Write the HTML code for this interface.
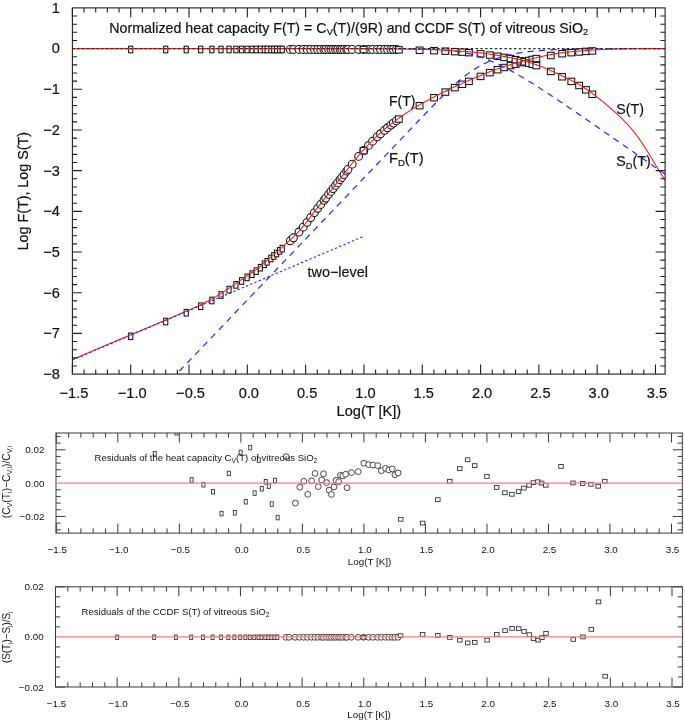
<!DOCTYPE html>
<html><head><meta charset="utf-8"><style>
html,body{margin:0;padding:0;background:#fff;}
svg{display:block;font-family:"Liberation Sans",sans-serif;fill:#111;}
svg text{fill:#111;}
svg text.b{stroke:#111;stroke-width:0.2px;}
</style></head><body>
<svg width="685" height="723" viewBox="0 0 685 723">
<rect width="685" height="723" fill="#fff"/>
<g opacity="0.999">
<clipPath id="cm"><rect x="72.4" y="7.9" width="592.7" height="366.20000000000005"/></clipPath>
<rect x="128.61" y="333.03" width="4.20" height="6.60" fill="#fff" stroke="#111" stroke-width="1.05"/>
<rect x="128.61" y="46.19" width="4.20" height="6.60" fill="#fff" stroke="#111" stroke-width="1.05"/>
<rect x="163.60" y="318.27" width="4.20" height="6.60" fill="#fff" stroke="#111" stroke-width="1.05"/>
<rect x="163.60" y="46.19" width="4.20" height="6.60" fill="#fff" stroke="#111" stroke-width="1.05"/>
<rect x="184.12" y="309.44" width="4.20" height="6.60" fill="#fff" stroke="#111" stroke-width="1.05"/>
<rect x="184.12" y="46.19" width="4.20" height="6.60" fill="#fff" stroke="#111" stroke-width="1.05"/>
<rect x="198.58" y="302.93" width="4.20" height="6.60" fill="#fff" stroke="#111" stroke-width="1.05"/>
<rect x="198.58" y="46.19" width="4.20" height="6.60" fill="#fff" stroke="#111" stroke-width="1.05"/>
<rect x="209.78" y="297.18" width="4.20" height="6.60" fill="#fff" stroke="#111" stroke-width="1.05"/>
<rect x="209.78" y="46.19" width="4.20" height="6.60" fill="#fff" stroke="#111" stroke-width="1.05"/>
<rect x="218.87" y="291.70" width="4.20" height="6.60" fill="#fff" stroke="#111" stroke-width="1.05"/>
<rect x="218.87" y="46.19" width="4.20" height="6.60" fill="#fff" stroke="#111" stroke-width="1.05"/>
<rect x="226.92" y="286.33" width="4.20" height="6.60" fill="#fff" stroke="#111" stroke-width="1.05"/>
<rect x="226.92" y="46.19" width="4.20" height="6.60" fill="#fff" stroke="#111" stroke-width="1.05"/>
<rect x="233.80" y="281.58" width="4.20" height="6.60" fill="#fff" stroke="#111" stroke-width="1.05"/>
<rect x="233.80" y="46.19" width="4.20" height="6.60" fill="#fff" stroke="#111" stroke-width="1.05"/>
<rect x="239.52" y="277.67" width="4.20" height="6.60" fill="#fff" stroke="#111" stroke-width="1.05"/>
<rect x="239.52" y="46.19" width="4.20" height="6.60" fill="#fff" stroke="#111" stroke-width="1.05"/>
<rect x="245.00" y="274.06" width="4.20" height="6.60" fill="#fff" stroke="#111" stroke-width="1.05"/>
<rect x="245.00" y="46.19" width="4.20" height="6.60" fill="#fff" stroke="#111" stroke-width="1.05"/>
<rect x="249.89" y="270.85" width="4.20" height="6.60" fill="#fff" stroke="#111" stroke-width="1.05"/>
<rect x="249.89" y="46.19" width="4.20" height="6.60" fill="#fff" stroke="#111" stroke-width="1.05"/>
<rect x="254.09" y="267.84" width="4.20" height="6.60" fill="#fff" stroke="#111" stroke-width="1.05"/>
<rect x="254.09" y="46.19" width="4.20" height="6.60" fill="#fff" stroke="#111" stroke-width="1.05"/>
<rect x="258.29" y="264.42" width="4.20" height="6.60" fill="#fff" stroke="#111" stroke-width="1.05"/>
<rect x="258.29" y="46.19" width="4.20" height="6.60" fill="#fff" stroke="#111" stroke-width="1.05"/>
<rect x="262.26" y="260.96" width="4.20" height="6.60" fill="#fff" stroke="#111" stroke-width="1.05"/>
<rect x="262.26" y="46.19" width="4.20" height="6.60" fill="#fff" stroke="#111" stroke-width="1.05"/>
<rect x="265.06" y="258.49" width="4.20" height="6.60" fill="#fff" stroke="#111" stroke-width="1.05"/>
<rect x="265.06" y="46.19" width="4.20" height="6.60" fill="#fff" stroke="#111" stroke-width="1.05"/>
<rect x="268.79" y="255.21" width="4.20" height="6.60" fill="#fff" stroke="#111" stroke-width="1.05"/>
<rect x="268.79" y="46.19" width="4.20" height="6.60" fill="#fff" stroke="#111" stroke-width="1.05"/>
<rect x="271.70" y="252.67" width="4.20" height="6.60" fill="#fff" stroke="#111" stroke-width="1.05"/>
<rect x="271.70" y="46.19" width="4.20" height="6.60" fill="#fff" stroke="#111" stroke-width="1.05"/>
<rect x="274.50" y="250.23" width="4.20" height="6.60" fill="#fff" stroke="#111" stroke-width="1.05"/>
<rect x="274.50" y="46.19" width="4.20" height="6.60" fill="#fff" stroke="#111" stroke-width="1.05"/>
<rect x="277.53" y="247.57" width="4.20" height="6.60" fill="#fff" stroke="#111" stroke-width="1.05"/>
<rect x="277.53" y="46.19" width="4.20" height="6.60" fill="#fff" stroke="#111" stroke-width="1.05"/>
<rect x="280.10" y="245.32" width="4.20" height="6.60" fill="#fff" stroke="#111" stroke-width="1.05"/>
<rect x="280.10" y="46.19" width="4.20" height="6.60" fill="#fff" stroke="#111" stroke-width="1.05"/>
<circle cx="290.25" cy="240.76" r="3.90" fill="#fff" stroke="#111" stroke-width="1.05"/>
<circle cx="290.25" cy="49.49" r="3.90" fill="#fff" stroke="#111" stroke-width="1.05"/>
<circle cx="293.39" cy="237.76" r="3.90" fill="#fff" stroke="#111" stroke-width="1.05"/>
<circle cx="293.39" cy="49.49" r="3.90" fill="#fff" stroke="#111" stroke-width="1.05"/>
<circle cx="298.99" cy="232.00" r="3.90" fill="#fff" stroke="#111" stroke-width="1.05"/>
<circle cx="298.99" cy="49.49" r="3.90" fill="#fff" stroke="#111" stroke-width="1.05"/>
<circle cx="303.19" cy="227.19" r="3.90" fill="#fff" stroke="#111" stroke-width="1.05"/>
<circle cx="303.19" cy="49.49" r="3.90" fill="#fff" stroke="#111" stroke-width="1.05"/>
<circle cx="307.04" cy="222.32" r="3.90" fill="#fff" stroke="#111" stroke-width="1.05"/>
<circle cx="307.04" cy="49.49" r="3.90" fill="#fff" stroke="#111" stroke-width="1.05"/>
<circle cx="310.65" cy="217.52" r="3.90" fill="#fff" stroke="#111" stroke-width="1.05"/>
<circle cx="310.65" cy="49.49" r="3.90" fill="#fff" stroke="#111" stroke-width="1.05"/>
<circle cx="314.39" cy="212.59" r="3.90" fill="#fff" stroke="#111" stroke-width="1.05"/>
<circle cx="314.39" cy="49.49" r="3.90" fill="#fff" stroke="#111" stroke-width="1.05"/>
<circle cx="317.65" cy="208.34" r="3.90" fill="#fff" stroke="#111" stroke-width="1.05"/>
<circle cx="317.65" cy="49.49" r="3.90" fill="#fff" stroke="#111" stroke-width="1.05"/>
<circle cx="320.68" cy="204.45" r="3.90" fill="#fff" stroke="#111" stroke-width="1.05"/>
<circle cx="320.68" cy="49.49" r="3.90" fill="#fff" stroke="#111" stroke-width="1.05"/>
<circle cx="323.95" cy="200.29" r="3.90" fill="#fff" stroke="#111" stroke-width="1.05"/>
<circle cx="323.95" cy="49.49" r="3.90" fill="#fff" stroke="#111" stroke-width="1.05"/>
<circle cx="325.70" cy="198.07" r="3.90" fill="#fff" stroke="#111" stroke-width="1.05"/>
<circle cx="325.70" cy="49.49" r="3.90" fill="#fff" stroke="#111" stroke-width="1.05"/>
<circle cx="328.61" cy="194.37" r="3.90" fill="#fff" stroke="#111" stroke-width="1.05"/>
<circle cx="328.61" cy="49.49" r="3.90" fill="#fff" stroke="#111" stroke-width="1.05"/>
<circle cx="330.95" cy="191.41" r="3.90" fill="#fff" stroke="#111" stroke-width="1.05"/>
<circle cx="330.95" cy="49.49" r="3.90" fill="#fff" stroke="#111" stroke-width="1.05"/>
<circle cx="333.16" cy="188.58" r="3.90" fill="#fff" stroke="#111" stroke-width="1.05"/>
<circle cx="333.16" cy="49.49" r="3.90" fill="#fff" stroke="#111" stroke-width="1.05"/>
<circle cx="335.61" cy="185.44" r="3.90" fill="#fff" stroke="#111" stroke-width="1.05"/>
<circle cx="335.61" cy="49.49" r="3.90" fill="#fff" stroke="#111" stroke-width="1.05"/>
<circle cx="337.59" cy="182.88" r="3.90" fill="#fff" stroke="#111" stroke-width="1.05"/>
<circle cx="337.59" cy="49.49" r="3.90" fill="#fff" stroke="#111" stroke-width="1.05"/>
<circle cx="340.04" cy="179.71" r="3.90" fill="#fff" stroke="#111" stroke-width="1.05"/>
<circle cx="340.04" cy="49.49" r="3.90" fill="#fff" stroke="#111" stroke-width="1.05"/>
<circle cx="341.79" cy="177.45" r="3.90" fill="#fff" stroke="#111" stroke-width="1.05"/>
<circle cx="341.79" cy="49.49" r="3.90" fill="#fff" stroke="#111" stroke-width="1.05"/>
<circle cx="344.01" cy="174.58" r="3.90" fill="#fff" stroke="#111" stroke-width="1.05"/>
<circle cx="344.01" cy="49.49" r="3.90" fill="#fff" stroke="#111" stroke-width="1.05"/>
<circle cx="346.69" cy="171.13" r="3.90" fill="#fff" stroke="#111" stroke-width="1.05"/>
<circle cx="346.69" cy="49.49" r="3.90" fill="#fff" stroke="#111" stroke-width="1.05"/>
<circle cx="347.97" cy="169.49" r="3.90" fill="#fff" stroke="#111" stroke-width="1.05"/>
<circle cx="347.97" cy="49.49" r="3.90" fill="#fff" stroke="#111" stroke-width="1.05"/>
<circle cx="352.17" cy="164.19" r="3.90" fill="#fff" stroke="#111" stroke-width="1.05"/>
<circle cx="352.17" cy="49.49" r="3.90" fill="#fff" stroke="#111" stroke-width="1.05"/>
<circle cx="358.59" cy="156.39" r="3.90" fill="#fff" stroke="#111" stroke-width="1.05"/>
<circle cx="358.59" cy="49.49" r="3.90" fill="#fff" stroke="#111" stroke-width="1.05"/>
<circle cx="363.83" cy="150.39" r="3.90" fill="#fff" stroke="#111" stroke-width="1.05"/>
<circle cx="363.83" cy="49.49" r="3.90" fill="#fff" stroke="#111" stroke-width="1.05"/>
<circle cx="368.50" cy="145.38" r="3.90" fill="#fff" stroke="#111" stroke-width="1.05"/>
<circle cx="368.50" cy="49.49" r="3.90" fill="#fff" stroke="#111" stroke-width="1.05"/>
<circle cx="372.58" cy="141.23" r="3.90" fill="#fff" stroke="#111" stroke-width="1.05"/>
<circle cx="372.58" cy="49.49" r="3.90" fill="#fff" stroke="#111" stroke-width="1.05"/>
<circle cx="377.13" cy="136.85" r="3.90" fill="#fff" stroke="#111" stroke-width="1.05"/>
<circle cx="377.13" cy="49.49" r="3.90" fill="#fff" stroke="#111" stroke-width="1.05"/>
<circle cx="380.51" cy="133.75" r="3.90" fill="#fff" stroke="#111" stroke-width="1.05"/>
<circle cx="380.51" cy="49.49" r="3.90" fill="#fff" stroke="#111" stroke-width="1.05"/>
<circle cx="384.48" cy="130.29" r="3.90" fill="#fff" stroke="#111" stroke-width="1.05"/>
<circle cx="384.48" cy="49.49" r="3.90" fill="#fff" stroke="#111" stroke-width="1.05"/>
<circle cx="387.51" cy="127.75" r="3.90" fill="#fff" stroke="#111" stroke-width="1.05"/>
<circle cx="387.51" cy="49.49" r="3.90" fill="#fff" stroke="#111" stroke-width="1.05"/>
<circle cx="390.89" cy="125.03" r="3.90" fill="#fff" stroke="#111" stroke-width="1.05"/>
<circle cx="390.89" cy="49.49" r="3.90" fill="#fff" stroke="#111" stroke-width="1.05"/>
<circle cx="393.34" cy="123.12" r="3.90" fill="#fff" stroke="#111" stroke-width="1.05"/>
<circle cx="393.34" cy="49.49" r="3.90" fill="#fff" stroke="#111" stroke-width="1.05"/>
<circle cx="396.37" cy="120.84" r="3.90" fill="#fff" stroke="#111" stroke-width="1.05"/>
<circle cx="396.37" cy="49.49" r="3.90" fill="#fff" stroke="#111" stroke-width="1.05"/>
<rect x="360.20" y="147.45" width="6.80" height="6.40" fill="#fff" stroke="#111" stroke-width="1.05"/>
<rect x="360.20" y="46.35" width="6.80" height="6.40" fill="#fff" stroke="#111" stroke-width="1.05"/>
<rect x="395.42" y="115.86" width="6.80" height="6.40" fill="#fff" stroke="#111" stroke-width="1.05"/>
<rect x="395.42" y="46.64" width="6.80" height="6.40" fill="#fff" stroke="#111" stroke-width="1.05"/>
<rect x="416.18" y="102.48" width="6.80" height="6.40" fill="#fff" stroke="#111" stroke-width="1.05"/>
<rect x="416.18" y="47.04" width="6.80" height="6.40" fill="#fff" stroke="#111" stroke-width="1.05"/>
<rect x="430.64" y="94.55" width="6.80" height="6.40" fill="#fff" stroke="#111" stroke-width="1.05"/>
<rect x="430.64" y="47.48" width="6.80" height="6.40" fill="#fff" stroke="#111" stroke-width="1.05"/>
<rect x="441.95" y="88.89" width="6.80" height="6.40" fill="#fff" stroke="#111" stroke-width="1.05"/>
<rect x="441.95" y="47.95" width="6.80" height="6.40" fill="#fff" stroke="#111" stroke-width="1.05"/>
<rect x="451.40" y="84.45" width="6.80" height="6.40" fill="#fff" stroke="#111" stroke-width="1.05"/>
<rect x="451.40" y="48.45" width="6.80" height="6.40" fill="#fff" stroke="#111" stroke-width="1.05"/>
<rect x="458.86" y="81.09" width="6.80" height="6.40" fill="#fff" stroke="#111" stroke-width="1.05"/>
<rect x="458.86" y="48.94" width="6.80" height="6.40" fill="#fff" stroke="#111" stroke-width="1.05"/>
<rect x="465.51" y="78.17" width="6.80" height="6.40" fill="#fff" stroke="#111" stroke-width="1.05"/>
<rect x="465.51" y="49.47" width="6.80" height="6.40" fill="#fff" stroke="#111" stroke-width="1.05"/>
<rect x="477.17" y="73.21" width="6.80" height="6.40" fill="#fff" stroke="#111" stroke-width="1.05"/>
<rect x="477.17" y="50.63" width="6.80" height="6.40" fill="#fff" stroke="#111" stroke-width="1.05"/>
<rect x="486.38" y="69.45" width="6.80" height="6.40" fill="#fff" stroke="#111" stroke-width="1.05"/>
<rect x="486.38" y="51.84" width="6.80" height="6.40" fill="#fff" stroke="#111" stroke-width="1.05"/>
<rect x="494.20" y="66.52" width="6.80" height="6.40" fill="#fff" stroke="#111" stroke-width="1.05"/>
<rect x="494.20" y="53.06" width="6.80" height="6.40" fill="#fff" stroke="#111" stroke-width="1.05"/>
<rect x="500.84" y="64.31" width="6.80" height="6.40" fill="#fff" stroke="#111" stroke-width="1.05"/>
<rect x="500.84" y="54.19" width="6.80" height="6.40" fill="#fff" stroke="#111" stroke-width="1.05"/>
<rect x="507.14" y="62.39" width="6.80" height="6.40" fill="#fff" stroke="#111" stroke-width="1.05"/>
<rect x="507.14" y="55.37" width="6.80" height="6.40" fill="#fff" stroke="#111" stroke-width="1.05"/>
<rect x="512.16" y="60.93" width="6.80" height="6.40" fill="#fff" stroke="#111" stroke-width="1.05"/>
<rect x="512.16" y="56.43" width="6.80" height="6.40" fill="#fff" stroke="#111" stroke-width="1.05"/>
<rect x="517.17" y="59.50" width="6.80" height="6.40" fill="#fff" stroke="#111" stroke-width="1.05"/>
<rect x="517.17" y="57.63" width="6.80" height="6.40" fill="#fff" stroke="#111" stroke-width="1.05"/>
<rect x="521.14" y="58.39" width="6.80" height="6.40" fill="#fff" stroke="#111" stroke-width="1.05"/>
<rect x="521.14" y="58.68" width="6.80" height="6.40" fill="#fff" stroke="#111" stroke-width="1.05"/>
<rect x="525.45" y="57.23" width="6.80" height="6.40" fill="#fff" stroke="#111" stroke-width="1.05"/>
<rect x="525.45" y="59.95" width="6.80" height="6.40" fill="#fff" stroke="#111" stroke-width="1.05"/>
<rect x="529.07" y="56.30" width="6.80" height="6.40" fill="#fff" stroke="#111" stroke-width="1.05"/>
<rect x="529.07" y="61.10" width="6.80" height="6.40" fill="#fff" stroke="#111" stroke-width="1.05"/>
<rect x="532.91" y="55.36" width="6.80" height="6.40" fill="#fff" stroke="#111" stroke-width="1.05"/>
<rect x="532.91" y="62.42" width="6.80" height="6.40" fill="#fff" stroke="#111" stroke-width="1.05"/>
<rect x="547.38" y="52.31" width="6.80" height="6.40" fill="#fff" stroke="#111" stroke-width="1.05"/>
<rect x="547.38" y="68.25" width="6.80" height="6.40" fill="#fff" stroke="#111" stroke-width="1.05"/>
<rect x="558.69" y="50.52" width="6.80" height="6.40" fill="#fff" stroke="#111" stroke-width="1.05"/>
<rect x="558.69" y="73.61" width="6.80" height="6.40" fill="#fff" stroke="#111" stroke-width="1.05"/>
<rect x="567.90" y="49.46" width="6.80" height="6.40" fill="#fff" stroke="#111" stroke-width="1.05"/>
<rect x="567.90" y="78.20" width="6.80" height="6.40" fill="#fff" stroke="#111" stroke-width="1.05"/>
<rect x="575.71" y="48.75" width="6.80" height="6.40" fill="#fff" stroke="#111" stroke-width="1.05"/>
<rect x="575.71" y="82.32" width="6.80" height="6.40" fill="#fff" stroke="#111" stroke-width="1.05"/>
<rect x="582.59" y="48.19" width="6.80" height="6.40" fill="#fff" stroke="#111" stroke-width="1.05"/>
<rect x="582.59" y="86.64" width="6.80" height="6.40" fill="#fff" stroke="#111" stroke-width="1.05"/>
<rect x="588.89" y="47.75" width="6.80" height="6.40" fill="#fff" stroke="#111" stroke-width="1.05"/>
<rect x="588.89" y="91.11" width="6.80" height="6.40" fill="#fff" stroke="#111" stroke-width="1.05"/>
<path d="M171.53,379.34 L172.76,378.05 L174.00,376.75 L175.24,375.46 L176.48,374.16 L177.72,372.87 L178.95,371.57 L180.19,370.28 L181.43,368.98 L182.67,367.68 L183.91,366.39 L185.14,365.09 L186.38,363.80 L187.62,362.50 L188.86,361.21 L190.09,359.91 L191.33,358.61 L192.57,357.32 L193.81,356.02 L195.05,354.73 L196.28,353.43 L197.52,352.14 L198.76,350.84 L200.00,349.55 L201.23,348.25 L202.47,346.95 L203.71,345.66 L204.95,344.36 L206.19,343.07 L207.42,341.77 L208.66,340.48 L209.90,339.18 L211.14,337.88 L212.37,336.59 L213.61,335.29 L214.85,334.00 L216.09,332.70 L217.33,331.41 L218.56,330.11 L219.80,328.82 L221.04,327.52 L222.28,326.22 L223.51,324.93 L224.75,323.63 L225.99,322.34 L227.23,321.04 L228.47,319.75 L229.70,318.45 L230.94,317.15 L232.18,315.86 L233.42,314.56 L234.66,313.27 L235.89,311.97 L237.13,310.68 L238.37,309.38 L239.61,308.09 L240.84,306.79 L242.08,305.49 L243.32,304.20 L244.56,302.90 L245.80,301.61 L247.03,300.31 L248.27,299.02 L249.51,297.72 L250.75,296.43 L251.98,295.13 L253.22,293.83 L254.46,292.54 L255.70,291.24 L256.94,289.95 L258.17,288.65 L259.41,287.36 L260.65,286.06 L261.89,284.76 L263.12,283.47 L264.36,282.17 L265.60,280.88 L266.84,279.58 L268.08,278.29 L269.31,276.99 L270.55,275.70 L271.79,274.40 L273.03,273.10 L274.27,271.81 L275.50,270.51 L276.74,269.22 L277.98,267.92 L279.22,266.63 L280.45,265.33 L281.69,264.03 L282.93,262.74 L284.17,261.44 L285.41,260.15 L286.64,258.85 L287.88,257.56 L289.12,256.26 L290.36,254.97 L291.59,253.67 L292.83,252.37 L294.07,251.08 L295.31,249.78 L296.55,248.49 L297.78,247.19 L299.02,245.90 L300.26,244.60 L301.50,243.30 L302.73,242.01 L303.97,240.71 L305.21,239.42 L306.45,238.12 L307.69,236.83 L308.92,235.53 L310.16,234.24 L311.40,232.94 L312.64,231.64 L313.88,230.35 L315.11,229.05 L316.35,227.76 L317.59,226.46 L318.83,225.17 L320.06,223.87 L321.30,222.57 L322.54,221.28 L323.78,219.98 L325.02,218.69 L326.25,217.39 L327.49,216.10 L328.73,214.80 L329.97,213.51 L331.20,212.21 L332.44,210.91 L333.68,209.62 L334.92,208.32 L336.16,207.03 L337.39,205.73 L338.63,204.44 L339.87,203.14 L341.11,201.84 L342.34,200.55 L343.58,199.25 L344.82,197.96 L346.06,196.66 L347.30,195.37 L348.53,194.07 L349.77,192.78 L351.01,191.48 L352.25,190.18 L353.48,188.89 L354.72,187.59 L355.96,186.30 L357.20,185.00 L358.44,183.71 L359.67,182.41 L360.91,181.11 L362.15,179.82 L363.39,178.52 L364.63,177.23 L365.86,175.93 L367.10,174.64 L368.34,173.34 L369.58,172.05 L370.81,170.75 L372.05,169.45 L373.29,168.16 L374.53,166.86 L375.77,165.57 L377.00,164.27 L378.24,162.98 L379.48,161.68 L380.72,160.38 L381.95,159.09 L383.19,157.79 L384.43,156.50 L385.67,155.20 L386.91,153.91 L388.14,152.61 L389.38,151.32 L390.62,150.02 L391.86,148.72 L393.09,147.43 L394.33,146.13 L395.57,144.84 L396.81,143.54 L398.05,142.25 L399.28,140.95 L400.52,139.66 L401.76,138.36 L403.00,137.06 L404.24,135.77 L405.47,134.47 L406.71,133.18 L407.95,131.88 L409.19,130.59 L410.42,129.29 L411.66,128.00 L412.90,126.70 L414.14,125.40 L415.38,124.11 L416.61,122.81 L417.85,121.52 L419.09,120.23 L420.33,118.93 L421.56,117.64 L422.80,116.34 L424.04,115.05 L425.28,113.76 L426.52,112.47 L427.75,111.18 L428.99,109.90 L430.23,108.61 L431.47,107.33 L432.70,106.05 L433.94,104.77 L435.18,103.50 L436.42,102.23 L437.66,100.97 L438.89,99.71 L440.13,98.46 L441.37,97.22 L442.61,95.98 L443.84,94.76 L445.08,93.54 L446.32,92.33 L447.56,91.13 L448.80,89.95 L450.03,88.78 L451.27,87.62 L452.51,86.48 L453.75,85.35 L454.99,84.23 L456.22,83.14 L457.46,82.06 L458.70,81.00 L459.94,79.96 L461.17,78.93 L462.41,77.93 L463.65,76.95 L464.89,75.99 L466.13,75.04 L467.36,74.12 L468.60,73.22 L469.84,72.35 L471.08,71.49 L472.31,70.66 L473.55,69.85 L474.79,69.06 L476.03,68.29 L477.27,67.54 L478.50,66.82 L479.74,66.11 L480.98,65.43 L482.22,64.77 L483.45,64.13 L484.69,63.51 L485.93,62.92 L487.17,62.34 L488.41,61.78 L489.64,61.24 L490.88,60.72 L492.12,60.21 L493.36,59.73 L494.60,59.26 L495.83,58.81 L497.07,58.38 L498.31,57.96 L499.55,57.56 L500.78,57.17 L502.02,56.80 L503.26,56.45 L504.50,56.10 L505.74,55.77 L506.97,55.46 L508.21,55.16 L509.45,54.87 L510.69,54.59 L511.92,54.32 L513.16,54.06 L514.40,53.82 L515.64,53.58 L516.88,53.36 L518.11,53.14 L519.35,52.94 L520.59,52.74 L521.83,52.55 L523.06,52.37 L524.30,52.20 L525.54,52.03 L526.78,51.88 L528.02,51.72 L529.25,51.58 L530.49,51.44 L531.73,51.31 L532.97,51.18 L534.20,51.06 L535.44,50.95 L536.68,50.84 L537.92,50.74 L539.16,50.64 L540.39,50.54 L541.63,50.45 L542.87,50.36 L544.11,50.28 L545.35,50.20 L546.58,50.12 L547.82,50.05 L549.06,49.98 L550.30,49.92 L551.53,49.86 L552.77,49.80 L554.01,49.74 L555.25,49.69 L556.49,49.63 L557.72,49.58 L558.96,49.54 L560.20,49.49 L561.44,49.45 L562.67,49.41 L563.91,49.37 L565.15,49.33 L566.39,49.30 L567.63,49.27 L568.86,49.23 L570.10,49.20 L571.34,49.17 L572.58,49.15 L573.81,49.12 L575.05,49.09 L576.29,49.07 L577.53,49.05 L578.77,49.03 L580.00,49.00 L581.24,48.99 L582.48,48.97 L583.72,48.95 L584.96,48.93 L586.19,48.92 L587.43,48.90 L588.67,48.88 L589.91,48.87 L591.14,48.86 L592.38,48.84 L593.62,48.83 L594.86,48.82 L596.10,48.81 L597.33,48.80 L598.57,48.79 L599.81,48.78 L601.05,48.77 L602.28,48.76 L603.52,48.75 L604.76,48.75 L606.00,48.74 L607.24,48.73 L608.47,48.72 L609.71,48.72 L610.95,48.71 L612.19,48.71 L613.42,48.70 L614.66,48.70 L615.90,48.69 L617.14,48.69 L618.38,48.68 L619.61,48.68 L620.85,48.67 L622.09,48.67 L623.33,48.66 L624.57,48.66 L625.80,48.66 L627.04,48.65 L628.28,48.65 L629.52,48.65 L630.75,48.65 L631.99,48.64 L633.23,48.64 L634.47,48.64 L635.71,48.64 L636.94,48.63 L638.18,48.63 L639.42,48.63 L640.66,48.63 L641.89,48.63 L643.13,48.62 L644.37,48.62 L645.61,48.62 L646.85,48.62 L648.08,48.62 L649.32,48.62 L650.56,48.61 L651.80,48.61 L653.03,48.61 L654.27,48.61 L655.51,48.61 L656.75,48.61 L657.99,48.61 L659.22,48.61 L660.46,48.61 L661.70,48.61 L662.94,48.60 L664.17,48.60 L665.41,48.60" fill="none" stroke="#2626f5" stroke-width="1.2" stroke-dasharray="6.2 5.2" clip-path="url(#cm)" stroke-linejoin="round"/>
<path d="M363.95,48.60 L364.96,48.60 L365.97,48.60 L366.97,48.60 L367.98,48.60 L368.99,48.60 L370.00,48.61 L371.01,48.61 L372.02,48.61 L373.02,48.61 L374.03,48.61 L375.04,48.61 L376.05,48.61 L377.06,48.61 L378.07,48.62 L379.07,48.62 L380.08,48.62 L381.09,48.62 L382.10,48.62 L383.11,48.63 L384.11,48.63 L385.12,48.63 L386.13,48.63 L387.14,48.64 L388.15,48.64 L389.16,48.64 L390.16,48.64 L391.17,48.65 L392.18,48.65 L393.19,48.66 L394.20,48.66 L395.21,48.66 L396.21,48.67 L397.22,48.67 L398.23,48.68 L399.24,48.68 L400.25,48.69 L401.25,48.70 L402.26,48.70 L403.27,48.71 L404.28,48.72 L405.29,48.72 L406.30,48.73 L407.30,48.74 L408.31,48.75 L409.32,48.76 L410.33,48.77 L411.34,48.78 L412.35,48.80 L413.35,48.81 L414.36,48.82 L415.37,48.84 L416.38,48.85 L417.39,48.87 L418.39,48.89 L419.40,48.90 L420.41,48.92 L421.42,48.94 L422.43,48.97 L423.44,48.99 L424.44,49.01 L425.45,49.04 L426.46,49.07 L427.47,49.10 L428.48,49.13 L429.49,49.16 L430.49,49.20 L431.50,49.24 L432.51,49.28 L433.52,49.32 L434.53,49.37 L435.53,49.41 L436.54,49.47 L437.55,49.52 L438.56,49.58 L439.57,49.64 L440.58,49.70 L441.58,49.77 L442.59,49.84 L443.60,49.92 L444.61,50.00 L445.62,50.08 L446.63,50.17 L447.63,50.26 L448.64,50.36 L449.65,50.47 L450.66,50.58 L451.67,50.69 L452.67,50.81 L453.68,50.94 L454.69,51.07 L455.70,51.21 L456.71,51.36 L457.72,51.51 L458.72,51.67 L459.73,51.84 L460.74,52.01 L461.75,52.19 L462.76,52.38 L463.77,52.58 L464.77,52.78 L465.78,52.99 L466.79,53.21 L467.80,53.44 L468.81,53.68 L469.81,53.92 L470.82,54.17 L471.83,54.43 L472.84,54.70 L473.85,54.98 L474.86,55.27 L475.86,55.56 L476.87,55.87 L477.88,56.18 L478.89,56.50 L479.90,56.83 L480.91,57.17 L481.91,57.52 L482.92,57.87 L483.93,58.23 L484.94,58.60 L485.95,58.98 L486.95,59.37 L487.96,59.77 L488.97,60.17 L489.98,60.58 L490.99,61.00 L492.00,61.43 L493.00,61.87 L494.01,62.31 L495.02,62.76 L496.03,63.22 L497.04,63.68 L498.05,64.15 L499.05,64.63 L500.06,65.11 L501.07,65.61 L502.08,66.10 L503.09,66.61 L504.09,67.12 L505.10,67.63 L506.11,68.16 L507.12,68.68 L508.13,69.22 L509.14,69.76 L510.14,70.30 L511.15,70.85 L512.16,71.40 L513.17,71.96 L514.18,72.53 L515.19,73.10 L516.19,73.67 L517.20,74.25 L518.21,74.83 L519.22,75.42 L520.23,76.01 L521.23,76.60 L522.24,77.20 L523.25,77.80 L524.26,78.40 L525.27,79.01 L526.28,79.63 L527.28,80.24 L528.29,80.86 L529.30,81.48 L530.31,82.10 L531.32,82.73 L532.33,83.36 L533.33,83.99 L534.34,84.63 L535.35,85.27 L536.36,85.91 L537.37,86.55 L538.37,87.19 L539.38,87.84 L540.39,88.49 L541.40,89.14 L542.41,89.79 L543.42,90.45 L544.42,91.11 L545.43,91.76 L546.44,92.42 L547.45,93.08 L548.46,93.75 L549.47,94.41 L550.47,95.08 L551.48,95.75 L552.49,96.42 L553.50,97.09 L554.51,97.76 L555.51,98.43 L556.52,99.10 L557.53,99.78 L558.54,100.45 L559.55,101.13 L560.56,101.81 L561.56,102.49 L562.57,103.17 L563.58,103.85 L564.59,104.53 L565.60,105.21 L566.61,105.90 L567.61,106.58 L568.62,107.27 L569.63,107.95 L570.64,108.64 L571.65,109.33 L572.65,110.01 L573.66,110.70 L574.67,111.39 L575.68,112.08 L576.69,112.77 L577.70,113.46 L578.70,114.15 L579.71,114.84 L580.72,115.53 L581.73,116.23 L582.74,116.92 L583.75,117.61 L584.75,118.31 L585.76,119.00 L586.77,119.69 L587.78,120.39 L588.79,121.08 L589.79,121.78 L590.80,122.47 L591.81,123.17 L592.82,123.87 L593.83,124.56 L594.84,125.26 L595.84,125.96 L596.85,126.66 L597.86,127.35 L598.87,128.05 L599.88,128.75 L600.89,129.45 L601.89,130.15 L602.90,130.84 L603.91,131.54 L604.92,132.24 L605.93,132.94 L606.93,133.64 L607.94,134.34 L608.95,135.04 L609.96,135.74 L610.97,136.44 L611.98,137.14 L612.98,137.84 L613.99,138.54 L615.00,139.24 L616.01,139.94 L617.02,140.64 L618.03,141.34 L619.03,142.04 L620.04,142.75 L621.05,143.45 L622.06,144.15 L623.07,144.85 L624.08,145.55 L625.08,146.25 L626.09,146.95 L627.10,147.66 L628.11,148.36 L629.12,149.06 L630.12,149.76 L631.13,150.46 L632.14,151.16 L633.15,151.87 L634.16,152.57 L635.17,153.27 L636.17,153.97 L637.18,154.68 L638.19,155.38 L639.20,156.08 L640.21,156.78 L641.22,157.48 L642.22,158.19 L643.23,158.89 L644.24,159.59 L645.25,160.30 L646.26,161.00 L647.26,161.70 L648.27,162.40 L649.28,163.11 L650.29,163.81 L651.30,164.51 L652.31,165.21 L653.31,165.92 L654.32,166.62 L655.33,167.32 L656.34,168.03 L657.35,168.73 L658.36,169.43 L659.36,170.14 L660.37,170.84 L661.38,171.54 L662.39,172.24 L663.40,172.95 L664.40,173.65 L665.41,174.35" fill="none" stroke="#2626f5" stroke-width="1.2" stroke-dasharray="6.2 5.2" clip-path="url(#cm)" stroke-linejoin="round"/>
<path d="M72.40,359.60 L73.39,359.17 L74.38,358.74 L75.37,358.31 L76.36,357.88 L77.35,357.45 L78.34,357.02 L79.33,356.60 L80.32,356.17 L81.31,355.74 L82.30,355.32 L83.29,354.89 L84.28,354.46 L85.27,354.04 L86.26,353.61 L87.25,353.19 L88.24,352.77 L89.23,352.34 L90.22,351.92 L91.21,351.50 L92.20,351.08 L93.19,350.65 L94.18,350.23 L95.17,349.81 L96.16,349.39 L97.15,348.97 L98.14,348.55 L99.13,348.13 L100.12,347.71 L101.11,347.29 L102.10,346.87 L103.09,346.45 L104.08,346.03 L105.07,345.61 L106.06,345.19 L107.05,344.78 L108.04,344.36 L109.03,343.94 L110.02,343.52 L111.01,343.11 L112.00,342.69 L112.99,342.27 L113.98,341.85 L114.97,341.44 L115.96,341.02 L116.95,340.60 L117.94,340.19 L118.93,339.77 L119.92,339.36 L120.91,338.94 L121.90,338.52 L122.89,338.11 L123.88,337.69 L124.87,337.28 L125.86,336.86 L126.85,336.45 L127.84,336.03 L128.83,335.61 L129.82,335.20 L130.81,334.78 L131.80,334.37 L132.79,333.95 L133.78,333.54 L134.77,333.12 L135.76,332.71 L136.75,332.29 L137.74,331.87 L138.73,331.46 L139.72,331.04 L140.71,330.63 L141.70,330.21 L142.69,329.79 L143.68,329.38 L144.67,328.96 L145.66,328.54 L146.65,328.13 L147.64,327.71 L148.63,327.29 L149.62,326.88 L150.61,326.46 L151.60,326.04 L152.59,325.62 L153.58,325.20 L154.57,324.79 L155.56,324.37 L156.55,323.95 L157.54,323.53 L158.53,323.11 L159.52,322.69 L160.51,322.27 L161.50,321.85 L162.49,321.43 L163.48,321.01 L164.47,320.59 L165.46,320.17 L166.45,319.75 L167.44,319.32 L168.43,318.90 L169.42,318.48 L170.41,318.06 L171.40,317.63 L172.39,317.21 L173.38,316.78 L174.37,316.36 L175.36,315.93 L176.35,315.51 L177.34,315.08 L178.33,314.66 L179.32,314.23 L180.31,313.80 L181.30,313.38 L182.29,312.95 L183.28,312.52 L184.27,312.09 L185.26,311.66 L186.25,311.23 L187.24,310.80 L188.23,310.37 L189.22,309.94 L190.21,309.50 L191.20,309.07 L192.19,308.63 L193.18,308.19 L194.17,307.74 L195.16,307.30 L196.15,306.85 L197.14,306.39 L198.13,305.93 L199.12,305.47 L200.11,305.01 L201.10,304.53 L202.09,304.06 L203.08,303.57 L204.07,303.08 L205.06,302.59 L206.05,302.09 L207.04,301.58 L208.03,301.06 L209.02,300.54 L210.01,300.00 L211.00,299.46 L211.99,298.91 L212.98,298.36 L213.97,297.79 L214.96,297.21 L215.95,296.63 L216.94,296.03 L217.93,295.42 L218.92,294.81 L219.91,294.18 L220.90,293.55 L221.89,292.91 L222.88,292.26 L223.87,291.61 L224.86,290.95 L225.85,290.29 L226.84,289.62 L227.83,288.94 L228.82,288.27 L229.81,287.59 L230.80,286.91 L231.79,286.22 L232.78,285.54 L233.77,284.85 L234.76,284.17 L235.75,283.48 L236.74,282.80 L237.73,282.12 L238.72,281.44 L239.71,280.76 L240.70,280.09 L241.69,279.42 L242.68,278.76 L243.67,278.10 L244.66,277.44 L245.65,276.80 L246.64,276.15 L247.63,275.52 L248.62,274.88 L249.61,274.23 L250.60,273.58 L251.59,272.92 L252.58,272.25 L253.57,271.56 L254.56,270.86 L255.55,270.13 L256.54,269.37 L257.53,268.59 L258.52,267.79 L259.51,266.97 L260.50,266.13 L261.49,265.28 L262.48,264.41 L263.47,263.54 L264.46,262.67 L265.45,261.79 L266.44,260.92 L267.43,260.04 L268.42,259.17 L269.41,258.30 L270.40,257.44 L271.39,256.57 L272.38,255.71 L273.37,254.85 L274.36,253.98 L275.35,253.12 L276.34,252.26 L277.33,251.39 L278.32,250.53 L279.31,249.66 L280.30,248.79 L281.29,247.92 L282.28,247.04 L283.27,246.17 L284.26,245.29 L285.25,244.40 L286.24,243.52 L287.23,242.62 L288.22,241.72 L289.21,240.82 L290.20,239.90 L291.19,238.97 L292.18,238.03 L293.17,237.08 L294.16,236.11 L295.15,235.12 L296.14,234.12 L297.13,233.09 L298.12,232.04 L299.11,230.97 L300.10,229.88 L301.09,228.76 L302.08,227.61 L303.07,226.43 L304.06,225.22 L305.05,223.98 L306.04,222.72 L307.03,221.43 L308.02,220.13 L309.01,218.81 L310.00,217.49 L310.99,216.17 L311.98,214.86 L312.97,213.55 L313.96,212.25 L314.95,210.95 L315.94,209.66 L316.93,208.38 L317.92,207.10 L318.91,205.82 L319.90,204.55 L320.89,203.29 L321.88,202.02 L322.87,200.76 L323.86,199.50 L324.85,198.24 L325.84,196.99 L326.83,195.73 L327.82,194.48 L328.81,193.22 L329.80,191.96 L330.79,190.70 L331.78,189.44 L332.77,188.18 L333.76,186.91 L334.75,185.65 L335.74,184.37 L336.73,183.10 L337.72,181.82 L338.71,180.54 L339.70,179.25 L340.69,177.97 L341.68,176.69 L342.67,175.41 L343.66,174.13 L344.65,172.85 L345.64,171.58 L346.63,170.30 L347.62,169.04 L348.61,167.78 L349.60,166.52 L350.59,165.27 L351.58,164.03 L352.57,162.79 L353.56,161.56 L354.55,160.35 L355.54,159.14 L356.53,157.94 L357.52,156.75 L358.51,155.58 L359.50,154.42 L360.49,153.27 L361.48,152.13 L362.47,151.01 L363.46,149.90 L364.45,148.81 L365.44,147.73 L366.43,146.66 L367.42,145.61 L368.41,144.57 L369.40,143.54 L370.39,142.53 L371.38,141.53 L372.37,140.54 L373.36,139.56 L374.35,138.59 L375.34,137.64 L376.33,136.70 L377.32,135.77 L378.31,134.85 L379.30,133.95 L380.29,133.05 L381.28,132.17 L382.27,131.29 L383.26,130.43 L384.25,129.58 L385.24,128.74 L386.23,127.90 L387.22,127.08 L388.21,126.27 L389.20,125.47 L390.19,124.68 L391.18,123.90 L392.17,123.12 L393.16,122.36 L394.15,121.60 L395.14,120.86 L396.13,120.12 L397.12,119.39 L398.11,118.67 L399.10,117.96 L400.09,117.25 L401.08,116.55 L402.07,115.86 L403.06,115.18 L404.05,114.51 L405.04,113.84 L406.03,113.18 L407.02,112.53 L408.01,111.88 L409.00,111.24 L409.99,110.61 L410.98,109.98 L411.97,109.36 L412.96,108.75 L413.95,108.14 L414.94,107.54 L415.93,106.94 L416.92,106.35 L417.91,105.76 L418.90,105.18 L419.89,104.60 L420.88,104.03 L421.87,103.46 L422.86,102.90 L423.85,102.34 L424.84,101.79 L425.83,101.24 L426.82,100.69 L427.81,100.15 L428.80,99.62 L429.79,99.08 L430.78,98.56 L431.77,98.03 L432.76,97.51 L433.75,96.99 L434.74,96.48 L435.73,95.97 L436.72,95.47 L437.71,94.96 L438.70,94.46 L439.69,93.97 L440.68,93.48 L441.67,92.99 L442.66,92.50 L443.65,92.02 L444.64,91.54 L445.63,91.06 L446.62,90.58 L447.61,90.11 L448.60,89.64 L449.59,89.17 L450.58,88.71 L451.57,88.25 L452.56,87.79 L453.55,87.33 L454.54,86.87 L455.53,86.42 L456.52,85.97 L457.51,85.52 L458.50,85.07 L459.49,84.62 L460.48,84.18 L461.47,83.74 L462.46,83.30 L463.45,82.86 L464.44,82.42 L465.43,81.99 L466.42,81.55 L467.41,81.12 L468.40,80.69 L469.39,80.26 L470.38,79.83 L471.37,79.41 L472.36,78.98 L473.35,78.56 L474.34,78.14 L475.33,77.72 L476.32,77.30 L477.31,76.88 L478.30,76.46 L479.29,76.04 L480.28,75.63 L481.27,75.21 L482.26,74.80 L483.25,74.39 L484.24,73.98 L485.23,73.58 L486.22,73.17 L487.21,72.77 L488.20,72.37 L489.19,71.98 L490.18,71.59 L491.17,71.20 L492.16,70.82 L493.15,70.45 L494.14,70.07 L495.13,69.71 L496.12,69.35 L497.11,68.99 L498.10,68.65 L499.09,68.30 L500.08,67.97 L501.07,67.64 L502.06,67.31 L503.05,66.99 L504.04,66.68 L505.03,66.36 L506.02,66.06 L507.01,65.75 L508.00,65.45 L508.99,65.15 L509.98,64.86 L510.97,64.57 L511.96,64.27 L512.95,63.98 L513.94,63.70 L514.93,63.41 L515.92,63.12 L516.91,62.84 L517.90,62.55 L518.89,62.27 L519.88,61.99 L520.87,61.71 L521.86,61.43 L522.85,61.16 L523.84,60.88 L524.83,60.61 L525.82,60.34 L526.81,60.07 L527.80,59.81 L528.79,59.55 L529.78,59.29 L530.77,59.03 L531.76,58.78 L532.75,58.53 L533.74,58.28 L534.73,58.04 L535.72,57.80 L536.71,57.56 L537.70,57.33 L538.69,57.10 L539.68,56.87 L540.67,56.65 L541.66,56.43 L542.65,56.21 L543.64,56.00 L544.63,55.80 L545.62,55.59 L546.61,55.40 L547.60,55.20 L548.59,55.01 L549.58,54.82 L550.57,54.64 L551.56,54.46 L552.55,54.29 L553.54,54.12 L554.53,53.96 L555.52,53.79 L556.51,53.64 L557.50,53.48 L558.49,53.34 L559.48,53.19 L560.47,53.05 L561.46,52.91 L562.45,52.77 L563.44,52.64 L564.43,52.52 L565.42,52.39 L566.41,52.28 L567.40,52.17 L568.39,52.06 L569.38,51.95 L570.37,51.85 L571.36,51.75 L572.35,51.66 L573.34,51.57 L574.33,51.48 L575.32,51.39 L576.31,51.30 L577.30,51.21 L578.29,51.12 L579.28,51.04 L580.27,50.95 L581.26,50.87 L582.25,50.79 L583.24,50.71 L584.23,50.63 L585.22,50.55 L586.21,50.47 L587.20,50.40 L588.19,50.33 L589.18,50.25 L590.17,50.19 L591.16,50.12 L592.15,50.05 L593.14,49.99 L594.13,49.93 L595.12,49.87 L596.11,49.82 L597.10,49.76 L598.09,49.71 L599.08,49.66 L600.07,49.61 L601.06,49.56 L602.05,49.52 L603.04,49.48 L604.03,49.44 L605.02,49.40 L606.01,49.36 L607.00,49.32 L607.99,49.29 L608.98,49.26 L609.97,49.22 L610.96,49.19 L611.95,49.16 L612.94,49.14 L613.93,49.11 L614.92,49.08 L615.91,49.06 L616.90,49.04 L617.89,49.01 L618.88,48.99 L619.87,48.97 L620.86,48.95 L621.85,48.93 L622.84,48.91 L623.83,48.89 L624.82,48.88 L625.81,48.86 L626.80,48.84 L627.79,48.83 L628.78,48.81 L629.77,48.80 L630.76,48.79 L631.75,48.77 L632.74,48.76 L633.73,48.75 L634.72,48.74 L635.71,48.73 L636.70,48.72 L637.69,48.71 L638.68,48.70 L639.67,48.69 L640.66,48.68 L641.65,48.68 L642.64,48.67 L643.63,48.66 L644.62,48.66 L645.61,48.65 L646.60,48.65 L647.59,48.64 L648.58,48.64 L649.57,48.63 L650.56,48.63 L651.55,48.62 L652.54,48.62 L653.53,48.62 L654.52,48.62 L655.51,48.61 L656.50,48.61 L657.49,48.61 L658.48,48.61 L659.47,48.61 L660.46,48.60 L661.45,48.60 L662.44,48.60 L663.43,48.60 L664.42,48.60 L665.41,48.60" fill="none" stroke="#ee2020" stroke-width="1.1" clip-path="url(#cm)" stroke-linejoin="round"/>
<path d="M72.40,48.59 L73.39,48.59 L74.38,48.59 L75.37,48.59 L76.36,48.59 L77.35,48.59 L78.34,48.59 L79.33,48.59 L80.32,48.59 L81.31,48.59 L82.30,48.59 L83.29,48.59 L84.28,48.59 L85.27,48.59 L86.26,48.59 L87.25,48.59 L88.24,48.59 L89.23,48.59 L90.22,48.59 L91.21,48.59 L92.20,48.59 L93.19,48.59 L94.18,48.59 L95.17,48.59 L96.16,48.59 L97.15,48.59 L98.14,48.59 L99.13,48.59 L100.12,48.59 L101.11,48.59 L102.10,48.59 L103.09,48.59 L104.08,48.59 L105.07,48.59 L106.06,48.59 L107.05,48.59 L108.04,48.59 L109.03,48.59 L110.02,48.59 L111.01,48.59 L112.00,48.59 L112.99,48.59 L113.98,48.59 L114.97,48.59 L115.96,48.59 L116.95,48.59 L117.94,48.59 L118.93,48.59 L119.92,48.59 L120.91,48.59 L121.90,48.59 L122.89,48.59 L123.88,48.59 L124.87,48.59 L125.86,48.59 L126.85,48.59 L127.84,48.59 L128.83,48.59 L129.82,48.59 L130.81,48.59 L131.80,48.59 L132.79,48.59 L133.78,48.59 L134.77,48.59 L135.76,48.59 L136.75,48.59 L137.74,48.59 L138.73,48.59 L139.72,48.59 L140.71,48.59 L141.70,48.59 L142.69,48.59 L143.68,48.59 L144.67,48.59 L145.66,48.59 L146.65,48.59 L147.64,48.59 L148.63,48.59 L149.62,48.59 L150.61,48.59 L151.60,48.59 L152.59,48.59 L153.58,48.59 L154.57,48.59 L155.56,48.59 L156.55,48.59 L157.54,48.59 L158.53,48.59 L159.52,48.59 L160.51,48.59 L161.50,48.59 L162.49,48.59 L163.48,48.59 L164.47,48.59 L165.46,48.59 L166.45,48.59 L167.44,48.59 L168.43,48.59 L169.42,48.59 L170.41,48.59 L171.40,48.59 L172.39,48.59 L173.38,48.59 L174.37,48.59 L175.36,48.59 L176.35,48.59 L177.34,48.59 L178.33,48.59 L179.32,48.59 L180.31,48.59 L181.30,48.59 L182.29,48.59 L183.28,48.59 L184.27,48.59 L185.26,48.59 L186.25,48.59 L187.24,48.59 L188.23,48.59 L189.22,48.59 L190.21,48.59 L191.20,48.59 L192.19,48.59 L193.18,48.59 L194.17,48.59 L195.16,48.59 L196.15,48.59 L197.14,48.59 L198.13,48.59 L199.12,48.59 L200.11,48.59 L201.10,48.59 L202.09,48.59 L203.08,48.59 L204.07,48.59 L205.06,48.59 L206.05,48.59 L207.04,48.59 L208.03,48.59 L209.02,48.59 L210.01,48.59 L211.00,48.59 L211.99,48.59 L212.98,48.59 L213.97,48.59 L214.96,48.59 L215.95,48.59 L216.94,48.59 L217.93,48.59 L218.92,48.59 L219.91,48.59 L220.90,48.59 L221.89,48.59 L222.88,48.59 L223.87,48.59 L224.86,48.59 L225.85,48.59 L226.84,48.59 L227.83,48.59 L228.82,48.59 L229.81,48.59 L230.80,48.59 L231.79,48.59 L232.78,48.59 L233.77,48.59 L234.76,48.59 L235.75,48.59 L236.74,48.59 L237.73,48.59 L238.72,48.59 L239.71,48.59 L240.70,48.59 L241.69,48.59 L242.68,48.59 L243.67,48.59 L244.66,48.59 L245.65,48.59 L246.64,48.59 L247.63,48.59 L248.62,48.59 L249.61,48.59 L250.60,48.59 L251.59,48.59 L252.58,48.59 L253.57,48.59 L254.56,48.59 L255.55,48.59 L256.54,48.59 L257.53,48.59 L258.52,48.59 L259.51,48.59 L260.50,48.59 L261.49,48.59 L262.48,48.59 L263.47,48.59 L264.46,48.59 L265.45,48.59 L266.44,48.59 L267.43,48.59 L268.42,48.59 L269.41,48.59 L270.40,48.59 L271.39,48.59 L272.38,48.59 L273.37,48.59 L274.36,48.59 L275.35,48.59 L276.34,48.59 L277.33,48.59 L278.32,48.59 L279.31,48.59 L280.30,48.59 L281.29,48.59 L282.28,48.59 L283.27,48.59 L284.26,48.59 L285.25,48.59 L286.24,48.59 L287.23,48.59 L288.22,48.59 L289.21,48.59 L290.20,48.59 L291.19,48.59 L292.18,48.59 L293.17,48.59 L294.16,48.59 L295.15,48.59 L296.14,48.59 L297.13,48.59 L298.12,48.59 L299.11,48.59 L300.10,48.59 L301.09,48.59 L302.08,48.59 L303.07,48.59 L304.06,48.59 L305.05,48.59 L306.04,48.59 L307.03,48.59 L308.02,48.59 L309.01,48.59 L310.00,48.59 L310.99,48.59 L311.98,48.59 L312.97,48.59 L313.96,48.59 L314.95,48.59 L315.94,48.59 L316.93,48.59 L317.92,48.59 L318.91,48.59 L319.90,48.59 L320.89,48.59 L321.88,48.59 L322.87,48.59 L323.86,48.59 L324.85,48.59 L325.84,48.59 L326.83,48.59 L327.82,48.59 L328.81,48.59 L329.80,48.59 L330.79,48.59 L331.78,48.59 L332.77,48.60 L333.76,48.60 L334.75,48.60 L335.74,48.60 L336.73,48.60 L337.72,48.60 L338.71,48.60 L339.70,48.60 L340.69,48.60 L341.68,48.60 L342.67,48.60 L343.66,48.60 L344.65,48.60 L345.64,48.61 L346.63,48.61 L347.62,48.61 L348.61,48.61 L349.60,48.61 L350.59,48.61 L351.58,48.61 L352.57,48.62 L353.56,48.62 L354.55,48.62 L355.54,48.62 L356.53,48.63 L357.52,48.63 L358.51,48.63 L359.50,48.63 L360.49,48.64 L361.48,48.64 L362.47,48.64 L363.46,48.65 L364.45,48.65 L365.44,48.65 L366.43,48.66 L367.42,48.66 L368.41,48.67 L369.40,48.67 L370.39,48.68 L371.38,48.68 L372.37,48.69 L373.36,48.69 L374.35,48.70 L375.34,48.70 L376.33,48.71 L377.32,48.72 L378.31,48.72 L379.30,48.73 L380.29,48.74 L381.28,48.75 L382.27,48.75 L383.26,48.76 L384.25,48.77 L385.24,48.78 L386.23,48.79 L387.22,48.80 L388.21,48.81 L389.20,48.82 L390.19,48.83 L391.18,48.84 L392.17,48.85 L393.16,48.86 L394.15,48.87 L395.14,48.89 L396.13,48.90 L397.12,48.91 L398.11,48.93 L399.10,48.94 L400.09,48.96 L401.08,48.97 L402.07,48.99 L403.06,49.00 L404.05,49.02 L405.04,49.03 L406.03,49.05 L407.02,49.07 L408.01,49.09 L409.00,49.11 L409.99,49.13 L410.98,49.15 L411.97,49.17 L412.96,49.19 L413.95,49.21 L414.94,49.23 L415.93,49.25 L416.92,49.27 L417.91,49.30 L418.90,49.32 L419.89,49.35 L420.88,49.37 L421.87,49.40 L422.86,49.43 L423.85,49.45 L424.84,49.48 L425.83,49.51 L426.82,49.54 L427.81,49.57 L428.80,49.60 L429.79,49.63 L430.78,49.67 L431.77,49.70 L432.76,49.73 L433.75,49.77 L434.74,49.81 L435.73,49.84 L436.72,49.88 L437.71,49.92 L438.70,49.96 L439.69,50.00 L440.68,50.04 L441.67,50.08 L442.66,50.13 L443.65,50.17 L444.64,50.22 L445.63,50.26 L446.62,50.31 L447.61,50.36 L448.60,50.41 L449.59,50.46 L450.58,50.52 L451.57,50.57 L452.56,50.62 L453.55,50.68 L454.54,50.74 L455.53,50.80 L456.52,50.86 L457.51,50.92 L458.50,50.99 L459.49,51.05 L460.48,51.12 L461.47,51.19 L462.46,51.26 L463.45,51.33 L464.44,51.41 L465.43,51.48 L466.42,51.56 L467.41,51.64 L468.40,51.72 L469.39,51.81 L470.38,51.90 L471.37,51.98 L472.36,52.08 L473.35,52.17 L474.34,52.27 L475.33,52.36 L476.32,52.47 L477.31,52.57 L478.30,52.68 L479.29,52.79 L480.28,52.90 L481.27,53.02 L482.26,53.14 L483.25,53.26 L484.24,53.38 L485.23,53.51 L486.22,53.64 L487.21,53.78 L488.20,53.92 L489.19,54.06 L490.18,54.20 L491.17,54.35 L492.16,54.50 L493.15,54.65 L494.14,54.80 L495.13,54.96 L496.12,55.12 L497.11,55.28 L498.10,55.44 L499.09,55.61 L500.08,55.77 L501.07,55.94 L502.06,56.11 L503.05,56.28 L504.04,56.46 L505.03,56.63 L506.02,56.81 L507.01,57.00 L508.00,57.18 L508.99,57.37 L509.98,57.56 L510.97,57.76 L511.96,57.96 L512.95,58.17 L513.94,58.38 L514.93,58.59 L515.92,58.81 L516.91,59.04 L517.90,59.27 L518.89,59.51 L519.88,59.76 L520.87,60.01 L521.86,60.26 L522.85,60.52 L523.84,60.79 L524.83,61.07 L525.82,61.35 L526.81,61.64 L527.80,61.93 L528.79,62.23 L529.78,62.54 L530.77,62.85 L531.76,63.17 L532.75,63.49 L533.74,63.83 L534.73,64.17 L535.72,64.51 L536.71,64.86 L537.70,65.22 L538.69,65.59 L539.68,65.96 L540.67,66.34 L541.66,66.72 L542.65,67.11 L543.64,67.51 L544.63,67.92 L545.62,68.33 L546.61,68.74 L547.60,69.16 L548.59,69.59 L549.58,70.02 L550.57,70.46 L551.56,70.90 L552.55,71.35 L553.54,71.80 L554.53,72.26 L555.52,72.72 L556.51,73.19 L557.50,73.66 L558.49,74.14 L559.48,74.62 L560.47,75.11 L561.46,75.60 L562.45,76.09 L563.44,76.59 L564.43,77.09 L565.42,77.59 L566.41,78.09 L567.40,78.58 L568.39,79.07 L569.38,79.56 L570.37,80.05 L571.36,80.54 L572.35,81.03 L573.34,81.52 L574.33,82.03 L575.32,82.54 L576.31,83.06 L577.30,83.60 L578.29,84.15 L579.28,84.72 L580.27,85.30 L581.26,85.90 L582.25,86.51 L583.24,87.13 L584.23,87.77 L585.22,88.42 L586.21,89.08 L587.20,89.76 L588.19,90.45 L589.18,91.15 L590.17,91.86 L591.16,92.58 L592.15,93.31 L593.14,94.05 L594.13,94.80 L595.12,95.56 L596.11,96.32 L597.10,97.10 L598.09,97.88 L599.08,98.67 L600.07,99.46 L601.06,100.27 L602.05,101.07 L603.04,101.88 L604.03,102.70 L605.02,103.52 L606.01,104.34 L607.00,105.17 L607.99,106.00 L608.98,106.83 L609.97,107.68 L610.96,108.53 L611.95,109.38 L612.94,110.25 L613.93,111.12 L614.92,112.00 L615.91,112.90 L616.90,113.80 L617.89,114.72 L618.88,115.65 L619.87,116.59 L620.86,117.55 L621.85,118.53 L622.84,119.52 L623.83,120.52 L624.82,121.55 L625.81,122.59 L626.80,123.65 L627.79,124.73 L628.78,125.84 L629.77,126.96 L630.76,128.11 L631.75,129.28 L632.74,130.47 L633.73,131.69 L634.72,132.94 L635.71,134.21 L636.70,135.51 L637.69,136.84 L638.68,138.19 L639.67,139.58 L640.66,141.00 L641.65,142.44 L642.64,143.92 L643.63,145.42 L644.62,146.95 L645.61,148.50 L646.60,150.08 L647.59,151.67 L648.58,153.27 L649.57,154.89 L650.56,156.52 L651.55,158.17 L652.54,159.82 L653.53,161.47 L654.52,163.13 L655.51,164.79 L656.50,166.45 L657.49,168.11 L658.48,169.76 L659.47,171.40 L660.46,173.03 L661.45,174.66 L662.44,176.27 L663.43,177.86 L664.42,179.43 L665.41,180.99" fill="none" stroke="#ee2020" stroke-width="1.1" clip-path="url(#cm)" stroke-linejoin="round"/>
<path d="M72.40,359.97 L363.37,236.48" fill="none" stroke="#2626f5" stroke-width="1.1" stroke-dasharray="2.3 2.3" clip-path="url(#cm)" stroke-linejoin="round"/>
<line x1="72.40" y1="48.59" x2="665.10" y2="48.59" stroke="#2a2a2a" stroke-width="1.15" stroke-dasharray="2.4 2.4"/>
<rect x="72.40" y="7.90" width="592.70" height="366.20" fill="none" stroke="#1e1e1e" stroke-width="1.1"/>
<path d="M72.40,374.10v-9.5M72.40,7.90v9.5M130.71,374.10v-9.5M130.71,7.90v9.5M189.02,374.10v-9.5M189.02,7.90v9.5M247.33,374.10v-9.5M247.33,7.90v9.5M305.64,374.10v-9.5M305.64,7.90v9.5M363.95,374.10v-9.5M363.95,7.90v9.5M422.26,374.10v-9.5M422.26,7.90v9.5M480.57,374.10v-9.5M480.57,7.90v9.5M538.88,374.10v-9.5M538.88,7.90v9.5M597.19,374.10v-9.5M597.19,7.90v9.5M655.50,374.10v-9.5M655.50,7.90v9.5M84.06,374.10v-4.7M84.06,7.90v4.7M95.72,374.10v-4.7M95.72,7.90v4.7M107.39,374.10v-4.7M107.39,7.90v4.7M119.05,374.10v-4.7M119.05,7.90v4.7M142.37,374.10v-4.7M142.37,7.90v4.7M154.03,374.10v-4.7M154.03,7.90v4.7M165.70,374.10v-4.7M165.70,7.90v4.7M177.36,374.10v-4.7M177.36,7.90v4.7M200.68,374.10v-4.7M200.68,7.90v4.7M212.34,374.10v-4.7M212.34,7.90v4.7M224.01,374.10v-4.7M224.01,7.90v4.7M235.67,374.10v-4.7M235.67,7.90v4.7M258.99,374.10v-4.7M258.99,7.90v4.7M270.65,374.10v-4.7M270.65,7.90v4.7M282.32,374.10v-4.7M282.32,7.90v4.7M293.98,374.10v-4.7M293.98,7.90v4.7M317.30,374.10v-4.7M317.30,7.90v4.7M328.96,374.10v-4.7M328.96,7.90v4.7M340.63,374.10v-4.7M340.63,7.90v4.7M352.29,374.10v-4.7M352.29,7.90v4.7M375.61,374.10v-4.7M375.61,7.90v4.7M387.27,374.10v-4.7M387.27,7.90v4.7M398.94,374.10v-4.7M398.94,7.90v4.7M410.60,374.10v-4.7M410.60,7.90v4.7M433.92,374.10v-4.7M433.92,7.90v4.7M445.58,374.10v-4.7M445.58,7.90v4.7M457.25,374.10v-4.7M457.25,7.90v4.7M468.91,374.10v-4.7M468.91,7.90v4.7M492.23,374.10v-4.7M492.23,7.90v4.7M503.89,374.10v-4.7M503.89,7.90v4.7M515.56,374.10v-4.7M515.56,7.90v4.7M527.22,374.10v-4.7M527.22,7.90v4.7M550.54,374.10v-4.7M550.54,7.90v4.7M562.20,374.10v-4.7M562.20,7.90v4.7M573.87,374.10v-4.7M573.87,7.90v4.7M585.53,374.10v-4.7M585.53,7.90v4.7M608.85,374.10v-4.7M608.85,7.90v4.7M620.51,374.10v-4.7M620.51,7.90v4.7M632.18,374.10v-4.7M632.18,7.90v4.7M643.84,374.10v-4.7M643.84,7.90v4.7M72.40,333.41h9.5M665.10,333.41h-9.5M72.40,292.72h9.5M665.10,292.72h-9.5M72.40,252.03h9.5M665.10,252.03h-9.5M72.40,211.34h9.5M665.10,211.34h-9.5M72.40,170.66h9.5M665.10,170.66h-9.5M72.40,129.97h9.5M665.10,129.97h-9.5M72.40,89.28h9.5M665.10,89.28h-9.5M72.40,365.96h4.7M665.10,365.96h-4.7M72.40,357.82h4.7M665.10,357.82h-4.7M72.40,349.69h4.7M665.10,349.69h-4.7M72.40,341.55h4.7M665.10,341.55h-4.7M72.40,325.27h4.7M665.10,325.27h-4.7M72.40,317.14h4.7M665.10,317.14h-4.7M72.40,309.00h4.7M665.10,309.00h-4.7M72.40,300.86h4.7M665.10,300.86h-4.7M72.40,284.58h4.7M665.10,284.58h-4.7M72.40,276.45h4.7M665.10,276.45h-4.7M72.40,268.31h4.7M665.10,268.31h-4.7M72.40,260.17h4.7M665.10,260.17h-4.7M72.40,243.90h4.7M665.10,243.90h-4.7M72.40,235.76h4.7M665.10,235.76h-4.7M72.40,227.62h4.7M665.10,227.62h-4.7M72.40,219.48h4.7M665.10,219.48h-4.7M72.40,203.21h4.7M665.10,203.21h-4.7M72.40,195.07h4.7M665.10,195.07h-4.7M72.40,186.93h4.7M665.10,186.93h-4.7M72.40,178.79h4.7M665.10,178.79h-4.7M72.40,162.52h4.7M665.10,162.52h-4.7M72.40,154.38h4.7M665.10,154.38h-4.7M72.40,146.24h4.7M665.10,146.24h-4.7M72.40,138.10h4.7M665.10,138.10h-4.7M72.40,121.83h4.7M665.10,121.83h-4.7M72.40,113.69h4.7M665.10,113.69h-4.7M72.40,105.55h4.7M665.10,105.55h-4.7M72.40,97.42h4.7M665.10,97.42h-4.7M72.40,81.14h4.7M665.10,81.14h-4.7M72.40,73.00h4.7M665.10,73.00h-4.7M72.40,64.86h4.7M665.10,64.86h-4.7M72.40,56.73h4.7M665.10,56.73h-4.7M72.40,40.45h4.7M665.10,40.45h-4.7M72.40,32.31h4.7M665.10,32.31h-4.7M72.40,24.18h4.7M665.10,24.18h-4.7M72.40,16.04h4.7M665.10,16.04h-4.7" stroke="#1e1e1e" stroke-width="1.1" fill="none"/>
<text id="t1" class="b" transform="translate(73.90,397.60)" font-size="14.6" text-anchor="middle">−1.5</text>
<text id="t2" class="b" transform="translate(132.21,397.60)" font-size="14.6" text-anchor="middle">−1.0</text>
<text id="t3" class="b" transform="translate(190.52,397.60)" font-size="14.6" text-anchor="middle">−0.5</text>
<text id="t4" class="b" transform="translate(248.83,397.60)" font-size="14.6" text-anchor="middle">0.0</text>
<text id="t5" class="b" transform="translate(307.14,397.60)" font-size="14.6" text-anchor="middle">0.5</text>
<text id="t6" class="b" transform="translate(365.45,397.60)" font-size="14.6" text-anchor="middle">1.0</text>
<text id="t7" class="b" transform="translate(423.76,397.60)" font-size="14.6" text-anchor="middle">1.5</text>
<text id="t8" class="b" transform="translate(482.07,397.60)" font-size="14.6" text-anchor="middle">2.0</text>
<text id="t9" class="b" transform="translate(540.38,397.60)" font-size="14.6" text-anchor="middle">2.5</text>
<text id="t10" class="b" transform="translate(598.69,397.60)" font-size="14.6" text-anchor="middle">3.0</text>
<text id="t11" class="b" transform="translate(657.00,397.60)" font-size="14.6" text-anchor="middle">3.5</text>
<text id="t12" class="b" transform="translate(59.80,379.00)" font-size="14.6" text-anchor="end">−8</text>
<text id="t13" class="b" transform="translate(59.80,338.31)" font-size="14.6" text-anchor="end">−7</text>
<text id="t14" class="b" transform="translate(59.80,297.62)" font-size="14.6" text-anchor="end">−6</text>
<text id="t15" class="b" transform="translate(59.80,256.93)" font-size="14.6" text-anchor="end">−5</text>
<text id="t16" class="b" transform="translate(59.80,216.24)" font-size="14.6" text-anchor="end">−4</text>
<text id="t17" class="b" transform="translate(59.80,175.56)" font-size="14.6" text-anchor="end">−3</text>
<text id="t18" class="b" transform="translate(59.80,134.87)" font-size="14.6" text-anchor="end">−2</text>
<text id="t19" class="b" transform="translate(59.80,94.18)" font-size="14.6" text-anchor="end">−1</text>
<text id="t20" class="b" transform="translate(59.80,53.49)" font-size="14.6" text-anchor="end">0</text>
<text id="t21" class="b" transform="translate(59.80,12.80)" font-size="14.6" text-anchor="end">1</text>
<text id="t22" class="b" transform="translate(368.90,416.00)" font-size="14.6" text-anchor="middle">Log(T [K])</text>
<text id="t23" class="b" transform="translate(27.60,191.20) rotate(-90) scale(1.0000,1.0600)" font-size="14.3" text-anchor="middle">Log F(T), Log S(T)</text>
<text id="t24" class="b" transform="translate(109.30,32.90) scale(1.0040,1.0000)" font-size="14.2" text-anchor="start">Normalized heat capacity F(T) = C<tspan font-size="9.30" dy="2.20">V</tspan><tspan dy="-2.20">(T)/(9R) and CCDF S(T) of vitreous SiO</tspan><tspan font-size="9.30" dy="2.20">2</tspan></text>
<text id="t25" class="b" transform="translate(389.00,105.80) scale(0.9850,1.0000)" font-size="14.2" text-anchor="start">F(T)</text>
<text id="t26" class="b" transform="translate(389.00,162.80) scale(1.0300,1.0000)" font-size="14.2" text-anchor="start">F<tspan font-size="9.30" dy="3.00">D</tspan><tspan dy="-3.00">(T)</tspan></text>
<text id="t27" class="b" transform="translate(616.30,114.40)" font-size="14.2" text-anchor="start">S(T)</text>
<text id="t28" class="b" transform="translate(616.30,166.40)" font-size="14.2" text-anchor="start">S<tspan font-size="9.30" dy="3.00">D</tspan><tspan dy="-3.00">(T)</tspan></text>
<text id="t29" class="b" transform="translate(307.50,277.00)" font-size="14.4" text-anchor="start">two−level</text>
<clipPath id="c1"><rect x="56.0" y="433.0" width="626.3" height="100.10000000000002"/></clipPath>
<g clip-path="url(#c1)">
<circle cx="286.14" cy="456.60" r="2.90" fill="#fff" stroke="#333" stroke-width="0.9"/>
<circle cx="295.37" cy="503.10" r="2.90" fill="#fff" stroke="#333" stroke-width="0.9"/>
<circle cx="299.80" cy="487.27" r="2.90" fill="#fff" stroke="#333" stroke-width="0.9"/>
<circle cx="303.86" cy="481.27" r="2.90" fill="#fff" stroke="#333" stroke-width="0.9"/>
<circle cx="307.67" cy="494.27" r="2.90" fill="#fff" stroke="#333" stroke-width="0.9"/>
<circle cx="311.61" cy="480.77" r="2.90" fill="#fff" stroke="#333" stroke-width="0.9"/>
<circle cx="315.05" cy="473.43" r="2.90" fill="#fff" stroke="#333" stroke-width="0.9"/>
<circle cx="318.25" cy="486.60" r="2.90" fill="#fff" stroke="#333" stroke-width="0.9"/>
<circle cx="321.70" cy="479.93" r="2.90" fill="#fff" stroke="#333" stroke-width="0.9"/>
<circle cx="323.54" cy="473.77" r="2.90" fill="#fff" stroke="#333" stroke-width="0.9"/>
<circle cx="326.62" cy="482.60" r="2.90" fill="#fff" stroke="#333" stroke-width="0.9"/>
<circle cx="329.08" cy="490.10" r="2.90" fill="#fff" stroke="#333" stroke-width="0.9"/>
<circle cx="331.42" cy="494.43" r="2.90" fill="#fff" stroke="#333" stroke-width="0.9"/>
<circle cx="334.00" cy="486.93" r="2.90" fill="#fff" stroke="#333" stroke-width="0.9"/>
<circle cx="336.09" cy="480.27" r="2.90" fill="#fff" stroke="#333" stroke-width="0.9"/>
<circle cx="338.68" cy="481.77" r="2.90" fill="#fff" stroke="#333" stroke-width="0.9"/>
<circle cx="340.52" cy="475.27" r="2.90" fill="#fff" stroke="#333" stroke-width="0.9"/>
<circle cx="342.86" cy="475.93" r="2.90" fill="#fff" stroke="#333" stroke-width="0.9"/>
<circle cx="345.69" cy="474.27" r="2.90" fill="#fff" stroke="#333" stroke-width="0.9"/>
<circle cx="347.04" cy="487.77" r="2.90" fill="#fff" stroke="#333" stroke-width="0.9"/>
<circle cx="351.47" cy="472.60" r="2.90" fill="#fff" stroke="#333" stroke-width="0.9"/>
<circle cx="358.24" cy="471.60" r="2.90" fill="#fff" stroke="#333" stroke-width="0.9"/>
<circle cx="363.78" cy="463.27" r="2.90" fill="#fff" stroke="#333" stroke-width="0.9"/>
<circle cx="368.70" cy="464.60" r="2.90" fill="#fff" stroke="#333" stroke-width="0.9"/>
<circle cx="373.00" cy="465.10" r="2.90" fill="#fff" stroke="#333" stroke-width="0.9"/>
<circle cx="377.80" cy="465.60" r="2.90" fill="#fff" stroke="#333" stroke-width="0.9"/>
<circle cx="381.37" cy="470.77" r="2.90" fill="#fff" stroke="#333" stroke-width="0.9"/>
<circle cx="385.56" cy="468.27" r="2.90" fill="#fff" stroke="#333" stroke-width="0.9"/>
<circle cx="388.75" cy="469.93" r="2.90" fill="#fff" stroke="#333" stroke-width="0.9"/>
<circle cx="392.32" cy="468.93" r="2.90" fill="#fff" stroke="#333" stroke-width="0.9"/>
<circle cx="394.91" cy="474.77" r="2.90" fill="#fff" stroke="#333" stroke-width="0.9"/>
<circle cx="398.11" cy="472.93" r="2.90" fill="#fff" stroke="#333" stroke-width="0.9"/>
<rect x="153.23" y="451.52" width="3.00" height="4.50" fill="#fff" stroke="#333" stroke-width="0.9"/>
<rect x="174.89" y="430.52" width="3.00" height="4.50" fill="#fff" stroke="#333" stroke-width="0.9"/>
<rect x="190.14" y="477.68" width="3.00" height="4.50" fill="#fff" stroke="#333" stroke-width="0.9"/>
<rect x="201.96" y="482.52" width="3.00" height="4.50" fill="#fff" stroke="#333" stroke-width="0.9"/>
<rect x="211.55" y="489.52" width="3.00" height="4.50" fill="#fff" stroke="#333" stroke-width="0.9"/>
<rect x="220.04" y="511.35" width="3.00" height="4.50" fill="#fff" stroke="#333" stroke-width="0.9"/>
<rect x="227.30" y="471.18" width="3.00" height="4.50" fill="#fff" stroke="#333" stroke-width="0.9"/>
<rect x="233.33" y="510.52" width="3.00" height="4.50" fill="#fff" stroke="#333" stroke-width="0.9"/>
<rect x="239.11" y="450.18" width="3.00" height="4.50" fill="#fff" stroke="#333" stroke-width="0.9"/>
<rect x="244.28" y="499.52" width="3.00" height="4.50" fill="#fff" stroke="#333" stroke-width="0.9"/>
<rect x="248.71" y="445.35" width="3.00" height="4.50" fill="#fff" stroke="#333" stroke-width="0.9"/>
<rect x="253.14" y="490.85" width="3.00" height="4.50" fill="#fff" stroke="#333" stroke-width="0.9"/>
<rect x="257.32" y="457.85" width="3.00" height="4.50" fill="#fff" stroke="#333" stroke-width="0.9"/>
<rect x="260.28" y="486.52" width="3.00" height="4.50" fill="#fff" stroke="#333" stroke-width="0.9"/>
<rect x="264.21" y="479.52" width="3.00" height="4.50" fill="#fff" stroke="#333" stroke-width="0.9"/>
<rect x="267.29" y="483.85" width="3.00" height="4.50" fill="#fff" stroke="#333" stroke-width="0.9"/>
<rect x="270.24" y="501.85" width="3.00" height="4.50" fill="#fff" stroke="#333" stroke-width="0.9"/>
<rect x="273.44" y="478.18" width="3.00" height="4.50" fill="#fff" stroke="#333" stroke-width="0.9"/>
<rect x="276.15" y="515.35" width="3.00" height="4.50" fill="#fff" stroke="#333" stroke-width="0.9"/>
<rect x="398.44" y="517.37" width="4.50" height="3.80" fill="#fff" stroke="#333" stroke-width="0.9"/>
<rect x="420.34" y="521.20" width="4.50" height="3.80" fill="#fff" stroke="#333" stroke-width="0.9"/>
<rect x="435.60" y="497.70" width="4.50" height="3.80" fill="#fff" stroke="#333" stroke-width="0.9"/>
<rect x="447.53" y="479.37" width="4.50" height="3.80" fill="#fff" stroke="#333" stroke-width="0.9"/>
<rect x="457.50" y="466.70" width="4.50" height="3.80" fill="#fff" stroke="#333" stroke-width="0.9"/>
<rect x="465.37" y="457.87" width="4.50" height="3.80" fill="#fff" stroke="#333" stroke-width="0.9"/>
<rect x="472.39" y="463.70" width="4.50" height="3.80" fill="#fff" stroke="#333" stroke-width="0.9"/>
<rect x="484.69" y="474.53" width="4.50" height="3.80" fill="#fff" stroke="#333" stroke-width="0.9"/>
<rect x="494.41" y="485.53" width="4.50" height="3.80" fill="#fff" stroke="#333" stroke-width="0.9"/>
<rect x="502.65" y="490.87" width="4.50" height="3.80" fill="#fff" stroke="#333" stroke-width="0.9"/>
<rect x="509.67" y="492.37" width="4.50" height="3.80" fill="#fff" stroke="#333" stroke-width="0.9"/>
<rect x="516.31" y="489.70" width="4.50" height="3.80" fill="#fff" stroke="#333" stroke-width="0.9"/>
<rect x="521.60" y="486.20" width="4.50" height="3.80" fill="#fff" stroke="#333" stroke-width="0.9"/>
<rect x="526.89" y="483.37" width="4.50" height="3.80" fill="#fff" stroke="#333" stroke-width="0.9"/>
<rect x="531.08" y="480.70" width="4.50" height="3.80" fill="#fff" stroke="#333" stroke-width="0.9"/>
<rect x="535.63" y="479.87" width="4.50" height="3.80" fill="#fff" stroke="#333" stroke-width="0.9"/>
<rect x="539.44" y="481.20" width="4.50" height="3.80" fill="#fff" stroke="#333" stroke-width="0.9"/>
<rect x="543.50" y="483.37" width="4.50" height="3.80" fill="#fff" stroke="#333" stroke-width="0.9"/>
<rect x="558.76" y="464.53" width="4.50" height="3.80" fill="#fff" stroke="#333" stroke-width="0.9"/>
<rect x="570.69" y="481.03" width="4.50" height="3.80" fill="#fff" stroke="#333" stroke-width="0.9"/>
<rect x="580.42" y="481.53" width="4.50" height="3.80" fill="#fff" stroke="#333" stroke-width="0.9"/>
<rect x="588.66" y="482.37" width="4.50" height="3.80" fill="#fff" stroke="#333" stroke-width="0.9"/>
<rect x="595.92" y="484.37" width="4.50" height="3.80" fill="#fff" stroke="#333" stroke-width="0.9"/>
<rect x="602.56" y="479.37" width="4.50" height="3.80" fill="#fff" stroke="#333" stroke-width="0.9"/>
</g>
<rect x="56.00" y="433.00" width="626.30" height="100.10" fill="none" stroke="#3a3a3a" stroke-width="1.0"/>
<path d="M56.30,533.10v-9.5M56.30,433.00v9.5M117.82,533.10v-9.5M117.82,433.00v9.5M179.34,533.10v-9.5M179.34,433.00v9.5M240.86,533.10v-9.5M240.86,433.00v9.5M302.38,533.10v-9.5M302.38,433.00v9.5M363.90,533.10v-9.5M363.90,433.00v9.5M425.42,533.10v-9.5M425.42,433.00v9.5M486.94,533.10v-9.5M486.94,433.00v9.5M548.46,533.10v-9.5M548.46,433.00v9.5M609.98,533.10v-9.5M609.98,433.00v9.5M671.50,533.10v-9.5M671.50,433.00v9.5M68.60,533.10v-4.7M68.60,433.00v4.7M80.91,533.10v-4.7M80.91,433.00v4.7M93.21,533.10v-4.7M93.21,433.00v4.7M105.52,533.10v-4.7M105.52,433.00v4.7M130.12,533.10v-4.7M130.12,433.00v4.7M142.43,533.10v-4.7M142.43,433.00v4.7M154.73,533.10v-4.7M154.73,433.00v4.7M167.04,533.10v-4.7M167.04,433.00v4.7M191.64,533.10v-4.7M191.64,433.00v4.7M203.95,533.10v-4.7M203.95,433.00v4.7M216.25,533.10v-4.7M216.25,433.00v4.7M228.56,533.10v-4.7M228.56,433.00v4.7M253.16,533.10v-4.7M253.16,433.00v4.7M265.47,533.10v-4.7M265.47,433.00v4.7M277.77,533.10v-4.7M277.77,433.00v4.7M290.08,533.10v-4.7M290.08,433.00v4.7M314.68,533.10v-4.7M314.68,433.00v4.7M326.99,533.10v-4.7M326.99,433.00v4.7M339.29,533.10v-4.7M339.29,433.00v4.7M351.60,533.10v-4.7M351.60,433.00v4.7M376.20,533.10v-4.7M376.20,433.00v4.7M388.51,533.10v-4.7M388.51,433.00v4.7M400.81,533.10v-4.7M400.81,433.00v4.7M413.12,533.10v-4.7M413.12,433.00v4.7M437.72,533.10v-4.7M437.72,433.00v4.7M450.03,533.10v-4.7M450.03,433.00v4.7M462.33,533.10v-4.7M462.33,433.00v4.7M474.64,533.10v-4.7M474.64,433.00v4.7M499.24,533.10v-4.7M499.24,433.00v4.7M511.55,533.10v-4.7M511.55,433.00v4.7M523.85,533.10v-4.7M523.85,433.00v4.7M536.16,533.10v-4.7M536.16,433.00v4.7M560.76,533.10v-4.7M560.76,433.00v4.7M573.07,533.10v-4.7M573.07,433.00v4.7M585.37,533.10v-4.7M585.37,433.00v4.7M597.68,533.10v-4.7M597.68,433.00v4.7M622.28,533.10v-4.7M622.28,433.00v4.7M634.59,533.10v-4.7M634.59,433.00v4.7M646.89,533.10v-4.7M646.89,433.00v4.7M659.20,533.10v-4.7M659.20,433.00v4.7M56.00,516.43h9.5M682.30,516.43h-9.5M56.00,449.77h9.5M682.30,449.77h-9.5M56.00,529.77h4.7M682.30,529.77h-4.7M56.00,523.10h4.7M682.30,523.10h-4.7M56.00,509.77h4.7M682.30,509.77h-4.7M56.00,503.10h4.7M682.30,503.10h-4.7M56.00,496.43h4.7M682.30,496.43h-4.7M56.00,489.77h4.7M682.30,489.77h-4.7M56.00,476.43h4.7M682.30,476.43h-4.7M56.00,469.77h4.7M682.30,469.77h-4.7M56.00,463.10h4.7M682.30,463.10h-4.7M56.00,456.43h4.7M682.30,456.43h-4.7M56.00,443.10h4.7M682.30,443.10h-4.7M56.00,436.43h4.7M682.30,436.43h-4.7" stroke="#3a3a3a" stroke-width="1.0" fill="none"/>
<line x1="56.50" y1="483.10" x2="681.80" y2="483.10" stroke="#f08080" stroke-width="1.3"/>
<text id="t30" transform="translate(57.30,552.80)" font-size="9.8" text-anchor="middle">−1.5</text>
<text id="t31" transform="translate(118.82,552.80)" font-size="9.8" text-anchor="middle">−1.0</text>
<text id="t32" transform="translate(180.34,552.80)" font-size="9.8" text-anchor="middle">−0.5</text>
<text id="t33" transform="translate(241.86,552.80)" font-size="9.8" text-anchor="middle">0.0</text>
<text id="t34" transform="translate(303.38,552.80)" font-size="9.8" text-anchor="middle">0.5</text>
<text id="t35" transform="translate(364.90,552.80)" font-size="9.8" text-anchor="middle">1.0</text>
<text id="t36" transform="translate(426.42,552.80)" font-size="9.8" text-anchor="middle">1.5</text>
<text id="t37" transform="translate(487.94,552.80)" font-size="9.8" text-anchor="middle">2.0</text>
<text id="t38" transform="translate(549.46,552.80)" font-size="9.8" text-anchor="middle">2.5</text>
<text id="t39" transform="translate(610.98,552.80)" font-size="9.8" text-anchor="middle">3.0</text>
<text id="t40" transform="translate(672.50,552.80)" font-size="9.8" text-anchor="middle">3.5</text>
<text id="t41" transform="translate(44.40,453.27)" font-size="9.8" text-anchor="end">0.02</text>
<text id="t42" transform="translate(44.40,486.60)" font-size="9.8" text-anchor="end">0.00</text>
<text id="t43" transform="translate(44.40,519.93)" font-size="9.8" text-anchor="end">−0.02</text>
<text id="t44" transform="translate(369.50,564.60)" font-size="9.8" text-anchor="middle">Log(T [K])</text>
<text id="t45" transform="translate(9.90,481.90) rotate(-90) scale(1.0450,1.0800)" font-size="9.8" text-anchor="middle">(C<tspan font-size="6.86" dy="2.00">V</tspan><tspan dy="-2.00">(T</tspan><tspan font-size="6.86" dy="2.00">i</tspan><tspan dy="-2.00">)−C</tspan><tspan font-size="6.86" dy="2.00">V,i</tspan><tspan dy="-2.00">)/C</tspan><tspan font-size="6.86" dy="2.00">V,i</tspan></text>
<text id="t46" transform="translate(94.60,460.90)" font-size="9.55" text-anchor="start">Residuals of the heat capacity C<tspan font-size="6.86" dy="2.00">V</tspan><tspan dy="-2.00">(T) of vitreous SiO</tspan><tspan font-size="6.86" dy="2.00">2</tspan></text>
<clipPath id="c2"><rect x="55.5" y="586.8" width="626.9" height="100.20000000000005"/></clipPath>
<g clip-path="url(#c2)">
<circle cx="285.82" cy="637.30" r="2.90" fill="#fff" stroke="#333" stroke-width="0.9"/>
<circle cx="289.15" cy="637.30" r="2.90" fill="#fff" stroke="#333" stroke-width="0.9"/>
<circle cx="295.07" cy="637.30" r="2.90" fill="#fff" stroke="#333" stroke-width="0.9"/>
<circle cx="299.51" cy="637.30" r="2.90" fill="#fff" stroke="#333" stroke-width="0.9"/>
<circle cx="303.58" cy="637.30" r="2.90" fill="#fff" stroke="#333" stroke-width="0.9"/>
<circle cx="307.40" cy="637.30" r="2.90" fill="#fff" stroke="#333" stroke-width="0.9"/>
<circle cx="311.35" cy="637.30" r="2.90" fill="#fff" stroke="#333" stroke-width="0.9"/>
<circle cx="314.80" cy="637.30" r="2.90" fill="#fff" stroke="#333" stroke-width="0.9"/>
<circle cx="318.01" cy="637.30" r="2.90" fill="#fff" stroke="#333" stroke-width="0.9"/>
<circle cx="321.46" cy="637.30" r="2.90" fill="#fff" stroke="#333" stroke-width="0.9"/>
<circle cx="323.31" cy="637.30" r="2.90" fill="#fff" stroke="#333" stroke-width="0.9"/>
<circle cx="326.39" cy="637.30" r="2.90" fill="#fff" stroke="#333" stroke-width="0.9"/>
<circle cx="328.86" cy="637.30" r="2.90" fill="#fff" stroke="#333" stroke-width="0.9"/>
<circle cx="331.20" cy="637.30" r="2.90" fill="#fff" stroke="#333" stroke-width="0.9"/>
<circle cx="333.79" cy="637.30" r="2.90" fill="#fff" stroke="#333" stroke-width="0.9"/>
<circle cx="335.88" cy="637.30" r="2.90" fill="#fff" stroke="#333" stroke-width="0.9"/>
<circle cx="338.47" cy="637.30" r="2.90" fill="#fff" stroke="#333" stroke-width="0.9"/>
<circle cx="340.32" cy="637.30" r="2.90" fill="#fff" stroke="#333" stroke-width="0.9"/>
<circle cx="342.67" cy="637.30" r="2.90" fill="#fff" stroke="#333" stroke-width="0.9"/>
<circle cx="345.50" cy="637.30" r="2.90" fill="#fff" stroke="#333" stroke-width="0.9"/>
<circle cx="346.86" cy="637.30" r="2.90" fill="#fff" stroke="#333" stroke-width="0.9"/>
<circle cx="351.30" cy="637.30" r="2.90" fill="#fff" stroke="#333" stroke-width="0.9"/>
<circle cx="358.08" cy="637.30" r="2.90" fill="#fff" stroke="#333" stroke-width="0.9"/>
<circle cx="363.63" cy="637.30" r="2.90" fill="#fff" stroke="#333" stroke-width="0.9"/>
<circle cx="368.56" cy="637.30" r="2.90" fill="#fff" stroke="#333" stroke-width="0.9"/>
<circle cx="372.87" cy="637.30" r="2.90" fill="#fff" stroke="#333" stroke-width="0.9"/>
<circle cx="377.68" cy="637.30" r="2.90" fill="#fff" stroke="#333" stroke-width="0.9"/>
<circle cx="381.26" cy="637.30" r="2.90" fill="#fff" stroke="#333" stroke-width="0.9"/>
<circle cx="385.45" cy="637.30" r="2.90" fill="#fff" stroke="#333" stroke-width="0.9"/>
<circle cx="388.66" cy="637.30" r="2.90" fill="#fff" stroke="#333" stroke-width="0.9"/>
<circle cx="392.23" cy="637.30" r="2.90" fill="#fff" stroke="#333" stroke-width="0.9"/>
<circle cx="394.82" cy="637.30" r="2.90" fill="#fff" stroke="#333" stroke-width="0.9"/>
<circle cx="398.03" cy="637.30" r="2.90" fill="#fff" stroke="#333" stroke-width="0.9"/>
<rect x="115.65" y="635.05" width="3.00" height="4.50" fill="#fff" stroke="#333" stroke-width="0.9"/>
<rect x="152.64" y="635.05" width="3.00" height="4.50" fill="#fff" stroke="#333" stroke-width="0.9"/>
<rect x="174.34" y="635.05" width="3.00" height="4.50" fill="#fff" stroke="#333" stroke-width="0.9"/>
<rect x="189.63" y="635.05" width="3.00" height="4.50" fill="#fff" stroke="#333" stroke-width="0.9"/>
<rect x="201.47" y="635.05" width="3.00" height="4.50" fill="#fff" stroke="#333" stroke-width="0.9"/>
<rect x="211.08" y="635.05" width="3.00" height="4.50" fill="#fff" stroke="#333" stroke-width="0.9"/>
<rect x="219.59" y="635.05" width="3.00" height="4.50" fill="#fff" stroke="#333" stroke-width="0.9"/>
<rect x="226.87" y="635.05" width="3.00" height="4.50" fill="#fff" stroke="#333" stroke-width="0.9"/>
<rect x="232.91" y="635.05" width="3.00" height="4.50" fill="#fff" stroke="#333" stroke-width="0.9"/>
<rect x="238.70" y="635.05" width="3.00" height="4.50" fill="#fff" stroke="#333" stroke-width="0.9"/>
<rect x="243.88" y="635.05" width="3.00" height="4.50" fill="#fff" stroke="#333" stroke-width="0.9"/>
<rect x="248.32" y="635.05" width="3.00" height="4.50" fill="#fff" stroke="#333" stroke-width="0.9"/>
<rect x="252.76" y="635.05" width="3.00" height="4.50" fill="#fff" stroke="#333" stroke-width="0.9"/>
<rect x="256.95" y="635.05" width="3.00" height="4.50" fill="#fff" stroke="#333" stroke-width="0.9"/>
<rect x="259.91" y="635.05" width="3.00" height="4.50" fill="#fff" stroke="#333" stroke-width="0.9"/>
<rect x="263.86" y="635.05" width="3.00" height="4.50" fill="#fff" stroke="#333" stroke-width="0.9"/>
<rect x="266.94" y="635.05" width="3.00" height="4.50" fill="#fff" stroke="#333" stroke-width="0.9"/>
<rect x="269.90" y="635.05" width="3.00" height="4.50" fill="#fff" stroke="#333" stroke-width="0.9"/>
<rect x="273.10" y="635.05" width="3.00" height="4.50" fill="#fff" stroke="#333" stroke-width="0.9"/>
<rect x="275.82" y="635.05" width="3.00" height="4.50" fill="#fff" stroke="#333" stroke-width="0.9"/>
<rect x="361.13" y="635.40" width="4.50" height="3.80" fill="#fff" stroke="#333" stroke-width="0.9"/>
<rect x="398.37" y="633.75" width="4.50" height="3.80" fill="#fff" stroke="#333" stroke-width="0.9"/>
<rect x="420.31" y="632.50" width="4.50" height="3.80" fill="#fff" stroke="#333" stroke-width="0.9"/>
<rect x="435.60" y="633.50" width="4.50" height="3.80" fill="#fff" stroke="#333" stroke-width="0.9"/>
<rect x="447.56" y="635.50" width="4.50" height="3.80" fill="#fff" stroke="#333" stroke-width="0.9"/>
<rect x="457.55" y="638.26" width="4.50" height="3.80" fill="#fff" stroke="#333" stroke-width="0.9"/>
<rect x="465.44" y="641.01" width="4.50" height="3.80" fill="#fff" stroke="#333" stroke-width="0.9"/>
<rect x="472.47" y="640.51" width="4.50" height="3.80" fill="#fff" stroke="#333" stroke-width="0.9"/>
<rect x="484.80" y="638.26" width="4.50" height="3.80" fill="#fff" stroke="#333" stroke-width="0.9"/>
<rect x="494.54" y="632.50" width="4.50" height="3.80" fill="#fff" stroke="#333" stroke-width="0.9"/>
<rect x="502.80" y="628.74" width="4.50" height="3.80" fill="#fff" stroke="#333" stroke-width="0.9"/>
<rect x="509.83" y="626.48" width="4.50" height="3.80" fill="#fff" stroke="#333" stroke-width="0.9"/>
<rect x="516.49" y="626.73" width="4.50" height="3.80" fill="#fff" stroke="#333" stroke-width="0.9"/>
<rect x="521.79" y="629.49" width="4.50" height="3.80" fill="#fff" stroke="#333" stroke-width="0.9"/>
<rect x="527.09" y="632.75" width="4.50" height="3.80" fill="#fff" stroke="#333" stroke-width="0.9"/>
<rect x="531.28" y="636.75" width="4.50" height="3.80" fill="#fff" stroke="#333" stroke-width="0.9"/>
<rect x="535.85" y="638.26" width="4.50" height="3.80" fill="#fff" stroke="#333" stroke-width="0.9"/>
<rect x="539.67" y="635.75" width="4.50" height="3.80" fill="#fff" stroke="#333" stroke-width="0.9"/>
<rect x="543.74" y="631.49" width="4.50" height="3.80" fill="#fff" stroke="#333" stroke-width="0.9"/>
<rect x="570.99" y="637.50" width="4.50" height="3.80" fill="#fff" stroke="#333" stroke-width="0.9"/>
<rect x="580.73" y="635.00" width="4.50" height="3.80" fill="#fff" stroke="#333" stroke-width="0.9"/>
<rect x="588.99" y="627.49" width="4.50" height="3.80" fill="#fff" stroke="#333" stroke-width="0.9"/>
<rect x="596.26" y="599.93" width="4.50" height="3.80" fill="#fff" stroke="#333" stroke-width="0.9"/>
<rect x="602.92" y="674.33" width="4.50" height="3.80" fill="#fff" stroke="#333" stroke-width="0.9"/>
</g>
<rect x="55.50" y="586.80" width="626.90" height="100.20" fill="none" stroke="#3a3a3a" stroke-width="1.0"/>
<path d="M55.50,687.00v-9.5M55.50,586.80v9.5M117.15,687.00v-9.5M117.15,586.80v9.5M178.80,687.00v-9.5M178.80,586.80v9.5M240.45,687.00v-9.5M240.45,586.80v9.5M302.10,687.00v-9.5M302.10,586.80v9.5M363.75,687.00v-9.5M363.75,586.80v9.5M425.40,687.00v-9.5M425.40,586.80v9.5M487.05,687.00v-9.5M487.05,586.80v9.5M548.70,687.00v-9.5M548.70,586.80v9.5M610.35,687.00v-9.5M610.35,586.80v9.5M672.00,687.00v-9.5M672.00,586.80v9.5M67.83,687.00v-4.7M67.83,586.80v4.7M80.16,687.00v-4.7M80.16,586.80v4.7M92.49,687.00v-4.7M92.49,586.80v4.7M104.82,687.00v-4.7M104.82,586.80v4.7M129.48,687.00v-4.7M129.48,586.80v4.7M141.81,687.00v-4.7M141.81,586.80v4.7M154.14,687.00v-4.7M154.14,586.80v4.7M166.47,687.00v-4.7M166.47,586.80v4.7M191.13,687.00v-4.7M191.13,586.80v4.7M203.46,687.00v-4.7M203.46,586.80v4.7M215.79,687.00v-4.7M215.79,586.80v4.7M228.12,687.00v-4.7M228.12,586.80v4.7M252.78,687.00v-4.7M252.78,586.80v4.7M265.11,687.00v-4.7M265.11,586.80v4.7M277.44,687.00v-4.7M277.44,586.80v4.7M289.77,687.00v-4.7M289.77,586.80v4.7M314.43,687.00v-4.7M314.43,586.80v4.7M326.76,687.00v-4.7M326.76,586.80v4.7M339.09,687.00v-4.7M339.09,586.80v4.7M351.42,687.00v-4.7M351.42,586.80v4.7M376.08,687.00v-4.7M376.08,586.80v4.7M388.41,687.00v-4.7M388.41,586.80v4.7M400.74,687.00v-4.7M400.74,586.80v4.7M413.07,687.00v-4.7M413.07,586.80v4.7M437.73,687.00v-4.7M437.73,586.80v4.7M450.06,687.00v-4.7M450.06,586.80v4.7M462.39,687.00v-4.7M462.39,586.80v4.7M474.72,687.00v-4.7M474.72,586.80v4.7M499.38,687.00v-4.7M499.38,586.80v4.7M511.71,687.00v-4.7M511.71,586.80v4.7M524.04,687.00v-4.7M524.04,586.80v4.7M536.37,687.00v-4.7M536.37,586.80v4.7M561.03,687.00v-4.7M561.03,586.80v4.7M573.36,687.00v-4.7M573.36,586.80v4.7M585.69,687.00v-4.7M585.69,586.80v4.7M598.02,687.00v-4.7M598.02,586.80v4.7M622.68,687.00v-4.7M622.68,586.80v4.7M635.01,687.00v-4.7M635.01,586.80v4.7M647.34,687.00v-4.7M647.34,586.80v4.7M659.67,687.00v-4.7M659.67,586.80v4.7M55.50,687.00h9.5M682.40,687.00h-9.5M55.50,586.80h9.5M682.40,586.80h-9.5M55.50,676.98h4.7M682.40,676.98h-4.7M55.50,666.96h4.7M682.40,666.96h-4.7M55.50,656.94h4.7M682.40,656.94h-4.7M55.50,646.92h4.7M682.40,646.92h-4.7M55.50,626.88h4.7M682.40,626.88h-4.7M55.50,616.86h4.7M682.40,616.86h-4.7M55.50,606.84h4.7M682.40,606.84h-4.7M55.50,596.82h4.7M682.40,596.82h-4.7" stroke="#3a3a3a" stroke-width="1.0" fill="none"/>
<line x1="56.00" y1="636.90" x2="681.90" y2="636.90" stroke="#f08080" stroke-width="1.3"/>
<text id="t47" transform="translate(56.50,706.60)" font-size="9.8" text-anchor="middle">−1.5</text>
<text id="t48" transform="translate(118.15,706.60)" font-size="9.8" text-anchor="middle">−1.0</text>
<text id="t49" transform="translate(179.80,706.60)" font-size="9.8" text-anchor="middle">−0.5</text>
<text id="t50" transform="translate(241.45,706.60)" font-size="9.8" text-anchor="middle">0.0</text>
<text id="t51" transform="translate(303.10,706.60)" font-size="9.8" text-anchor="middle">0.5</text>
<text id="t52" transform="translate(364.75,706.60)" font-size="9.8" text-anchor="middle">1.0</text>
<text id="t53" transform="translate(426.40,706.60)" font-size="9.8" text-anchor="middle">1.5</text>
<text id="t54" transform="translate(488.05,706.60)" font-size="9.8" text-anchor="middle">2.0</text>
<text id="t55" transform="translate(549.70,706.60)" font-size="9.8" text-anchor="middle">2.5</text>
<text id="t56" transform="translate(611.35,706.60)" font-size="9.8" text-anchor="middle">3.0</text>
<text id="t57" transform="translate(673.00,706.60)" font-size="9.8" text-anchor="middle">3.5</text>
<text id="t58" transform="translate(43.60,590.30)" font-size="9.8" text-anchor="end">0.02</text>
<text id="t59" transform="translate(43.60,640.40)" font-size="9.8" text-anchor="end">0.00</text>
<text id="t60" transform="translate(43.60,690.50)" font-size="9.8" text-anchor="end">−0.02</text>
<text id="t61" transform="translate(369.00,718.20)" font-size="9.8" text-anchor="middle">Log(T [K])</text>
<text id="t62" transform="translate(10.40,637.30) rotate(-90) scale(1.0000,1.0800)" font-size="9.8" text-anchor="middle">(S(T<tspan font-size="6.86" dy="2.00">i</tspan><tspan dy="-2.00">)−S</tspan><tspan font-size="6.86" dy="2.00">i</tspan><tspan dy="-2.00">)/S</tspan><tspan font-size="6.86" dy="2.00">i</tspan></text>
<text id="t63" transform="translate(81.60,614.90)" font-size="9.55" text-anchor="start">Residuals of the CCDF S(T) of vitreous SiO<tspan font-size="6.86" dy="2.00">2</tspan></text>
</g>
</svg>
</body></html>
